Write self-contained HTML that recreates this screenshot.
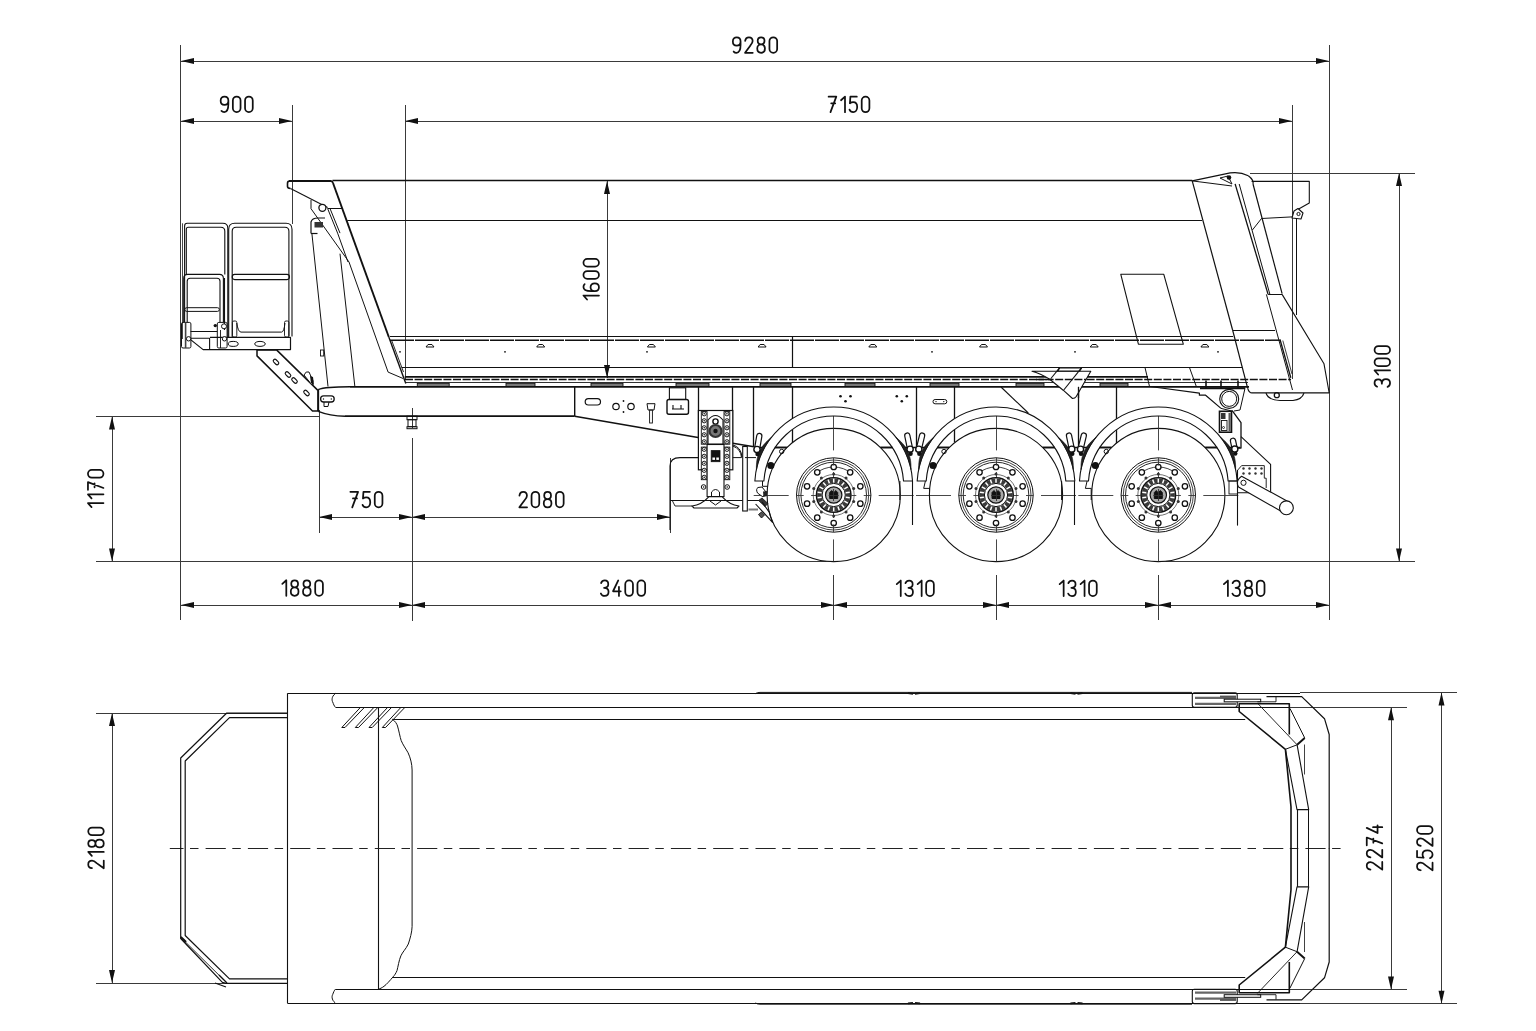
<!DOCTYPE html><html><head><meta charset="utf-8"><style>html,body{margin:0;padding:0;background:#fff;overflow:hidden}svg{display:block}</style></head><body><svg width="1536" height="1031" viewBox="0 0 1536 1031" stroke-linecap="butt"><line x1="180.5" y1="45" x2="180.5" y2="620" stroke="#3a3a3a" stroke-width="1.0" /><line x1="1329.5" y1="45" x2="1329.5" y2="620" stroke="#3a3a3a" stroke-width="1.0" /><line x1="292.5" y1="105" x2="292.5" y2="224" stroke="#3a3a3a" stroke-width="1.0" /><line x1="405.5" y1="105" x2="405.5" y2="380" stroke="#3a3a3a" stroke-width="1.0" /><line x1="1292.5" y1="105" x2="1292.5" y2="379" stroke="#3a3a3a" stroke-width="1.0" /><line x1="181" y1="61.5" x2="1329" y2="61.5" stroke="#3a3a3a" stroke-width="1.0" /><path d="M181,61 L194,58 L194,64 Z" fill="#111" stroke="none"/><path d="M1329,61 L1316,58 L1316,64 Z" fill="#111" stroke="none"/><g transform="translate(731.95,36.35)" fill="none" stroke="#111" stroke-width="1.75" stroke-linecap="round" stroke-linejoin="round"><path transform="translate(0.90,0.9)" d="M0.8,14.3 C1.5,15.1 2.6,15.5 3.6,15.5 C6.2,15.5 7.7,12.5 7.7,7.8 V4 C7.7,1.5 6.1,0 3.85,0 C1.6,0 0,1.5 0,4.2 C0,6.8 1.6,8.4 3.85,8.4 C6.1,8.4 7.7,6.8 7.7,4.5"/><path transform="translate(13.10,0.9)" d="M0.1,3.7 C0.4,1.4 2,0 3.9,0 C6,0 7.6,1.6 7.6,3.8 C7.6,5.6 6.6,6.9 5.2,8.4 L0,15.5 H7.7"/><path transform="translate(25.30,0.9)" d="M3.85,7.2 C1.8,7.2 0.45,5.8 0.45,3.6 C0.45,1.4 1.8,0 3.85,0 C5.9,0 7.25,1.4 7.25,3.6 C7.25,5.8 5.9,7.2 3.85,7.2 C1.6,7.2 0,8.9 0,11.35 C0,13.9 1.6,15.5 3.85,15.5 C6.1,15.5 7.7,13.9 7.7,11.35 C7.7,8.9 6.1,7.2 3.85,7.2 Z"/><path transform="translate(37.50,0.9)" d="M0,3.85 V11.65 A3.85,3.85 0 0 0 7.7,11.65 V3.85 A3.85,3.85 0 0 0 0,3.85 Z"/></g><line x1="181" y1="121.5" x2="292" y2="121.5" stroke="#3a3a3a" stroke-width="1.0" /><path d="M181,121 L194,118 L194,124 Z" fill="#111" stroke="none"/><path d="M292,121 L279,118 L279,124 Z" fill="#111" stroke="none"/><g transform="translate(219.75,95.65)" fill="none" stroke="#111" stroke-width="1.75" stroke-linecap="round" stroke-linejoin="round"><path transform="translate(0.90,0.9)" d="M0.8,14.3 C1.5,15.1 2.6,15.5 3.6,15.5 C6.2,15.5 7.7,12.5 7.7,7.8 V4 C7.7,1.5 6.1,0 3.85,0 C1.6,0 0,1.5 0,4.2 C0,6.8 1.6,8.4 3.85,8.4 C6.1,8.4 7.7,6.8 7.7,4.5"/><path transform="translate(13.10,0.9)" d="M0,3.85 V11.65 A3.85,3.85 0 0 0 7.7,11.65 V3.85 A3.85,3.85 0 0 0 0,3.85 Z"/><path transform="translate(25.30,0.9)" d="M0,3.85 V11.65 A3.85,3.85 0 0 0 7.7,11.65 V3.85 A3.85,3.85 0 0 0 0,3.85 Z"/></g><line x1="405" y1="121.5" x2="1292" y2="121.5" stroke="#3a3a3a" stroke-width="1.0" /><path d="M405,121 L418,118 L418,124 Z" fill="#111" stroke="none"/><path d="M1292,121 L1279,118 L1279,124 Z" fill="#111" stroke="none"/><g transform="translate(827.70,95.75)" fill="none" stroke="#111" stroke-width="1.75" stroke-linecap="round" stroke-linejoin="round"><path transform="translate(0.90,0.9)" d="M0,0 H7.7 L1.9,15.5 M2.6,6.6 H6.6"/><path transform="translate(13.10,0.9)" d="M0.2,3.6 L4.2,0 V15.5"/><path transform="translate(21.80,0.9)" d="M7.3,0 H0.9 L0.4,6.6 C1.3,5.9 2.5,5.5 3.7,5.5 C6.1,5.5 7.7,7.5 7.7,10.4 C7.7,13.4 6,15.5 3.7,15.5 C1.9,15.5 0.6,14.6 0,13"/><path transform="translate(34.00,0.9)" d="M0,3.85 V11.65 A3.85,3.85 0 0 0 7.7,11.65 V3.85 A3.85,3.85 0 0 0 0,3.85 Z"/></g><line x1="607.5" y1="181" x2="607.5" y2="378" stroke="#3a3a3a" stroke-width="1.0" /><path d="M607,181 L604,194 L610,194 Z" fill="#111" stroke="none"/><path d="M607,378 L604,365 L610,365 Z" fill="#111" stroke="none"/><g transform="translate(582.55,300.60) rotate(-90)" fill="none" stroke="#111" stroke-width="1.75" stroke-linecap="round" stroke-linejoin="round"><path transform="translate(0.90,0.9)" d="M0.2,3.6 L4.2,0 V15.5"/><path transform="translate(9.60,0.9)" d="M6.9,1.2 C6.2,0.4 5.1,0 4.1,0 C1.5,0 0,3 0,7.7 V11.5 C0,14 1.6,15.5 3.85,15.5 C6.1,15.5 7.7,14 7.7,11.3 C7.7,8.7 6.1,7.1 3.85,7.1 C1.6,7.1 0,8.7 0,11"/><path transform="translate(21.80,0.9)" d="M0,3.85 V11.65 A3.85,3.85 0 0 0 7.7,11.65 V3.85 A3.85,3.85 0 0 0 0,3.85 Z"/><path transform="translate(34.00,0.9)" d="M0,3.85 V11.65 A3.85,3.85 0 0 0 7.7,11.65 V3.85 A3.85,3.85 0 0 0 0,3.85 Z"/></g><line x1="1250" y1="173.5" x2="1415" y2="173.5" stroke="#3a3a3a" stroke-width="1.0" /><line x1="1399.5" y1="173" x2="1399.5" y2="561.5" stroke="#3a3a3a" stroke-width="1.0" /><path d="M1399,173 L1396,186 L1402,186 Z" fill="#111" stroke="none"/><path d="M1399,561.5 L1396,548.5 L1402,548.5 Z" fill="#111" stroke="none"/><g transform="translate(1373.65,387.80) rotate(-90)" fill="none" stroke="#111" stroke-width="1.75" stroke-linecap="round" stroke-linejoin="round"><path transform="translate(0.90,0.9)" d="M0.2,2.6 C0.9,0.9 2.3,0 3.9,0 C6,0 7.4,1.5 7.4,3.7 C7.4,5.9 5.8,7.3 3.2,7.3 C6.1,7.3 7.7,9.1 7.7,11.4 C7.7,13.9 6,15.5 3.8,15.5 C2,15.5 0.6,14.6 0,13"/><path transform="translate(13.10,0.9)" d="M0.2,3.6 L4.2,0 V15.5"/><path transform="translate(21.80,0.9)" d="M0,3.85 V11.65 A3.85,3.85 0 0 0 7.7,11.65 V3.85 A3.85,3.85 0 0 0 0,3.85 Z"/><path transform="translate(34.00,0.9)" d="M0,3.85 V11.65 A3.85,3.85 0 0 0 7.7,11.65 V3.85 A3.85,3.85 0 0 0 0,3.85 Z"/></g><line x1="96" y1="561.5" x2="833.7" y2="561.5" stroke="#3a3a3a" stroke-width="1.0" /><line x1="1158.3" y1="561.5" x2="1415" y2="561.5" stroke="#3a3a3a" stroke-width="1.0" /><line x1="96" y1="416.5" x2="320" y2="416.5" stroke="#3a3a3a" stroke-width="1.0" /><line x1="112.5" y1="416.5" x2="112.5" y2="561.5" stroke="#3a3a3a" stroke-width="1.0" /><path d="M112,416.5 L109,429.5 L115,429.5 Z" fill="#111" stroke="none"/><path d="M112,561.5 L109,548.5 L115,548.5 Z" fill="#111" stroke="none"/><g transform="translate(87.05,508.15) rotate(-90)" fill="none" stroke="#111" stroke-width="1.75" stroke-linecap="round" stroke-linejoin="round"><path transform="translate(0.90,0.9)" d="M0.2,3.6 L4.2,0 V15.5"/><path transform="translate(9.60,0.9)" d="M0.2,3.6 L4.2,0 V15.5"/><path transform="translate(18.30,0.9)" d="M0,0 H7.7 L1.9,15.5 M2.6,6.6 H6.6"/><path transform="translate(30.50,0.9)" d="M0,3.85 V11.65 A3.85,3.85 0 0 0 7.7,11.65 V3.85 A3.85,3.85 0 0 0 0,3.85 Z"/></g><line x1="319.5" y1="410" x2="319.5" y2="533" stroke="#3a3a3a" stroke-width="1.0" /><line x1="670.5" y1="458" x2="670.5" y2="533" stroke="#3a3a3a" stroke-width="1.0" /><line x1="412.5" y1="408" x2="412.5" y2="428" stroke="#3a3a3a" stroke-width="1.0" /><line x1="412.5" y1="438" x2="412.5" y2="621" stroke="#3a3a3a" stroke-width="1.0" /><line x1="319" y1="517.5" x2="670" y2="517.5" stroke="#3a3a3a" stroke-width="1.0" /><path d="M319,517 L332,514 L332,520 Z" fill="#111" stroke="none"/><path d="M412,517 L399,514 L399,520 Z" fill="#111" stroke="none"/><path d="M412,517 L425,514 L425,520 Z" fill="#111" stroke="none"/><path d="M670,517 L657,514 L657,520 Z" fill="#111" stroke="none"/><g transform="translate(349.45,490.95)" fill="none" stroke="#111" stroke-width="1.75" stroke-linecap="round" stroke-linejoin="round"><path transform="translate(0.90,0.9)" d="M0,0 H7.7 L1.9,15.5 M2.6,6.6 H6.6"/><path transform="translate(13.10,0.9)" d="M7.3,0 H0.9 L0.4,6.6 C1.3,5.9 2.5,5.5 3.7,5.5 C6.1,5.5 7.7,7.5 7.7,10.4 C7.7,13.4 6,15.5 3.7,15.5 C1.9,15.5 0.6,14.6 0,13"/><path transform="translate(25.30,0.9)" d="M0,3.85 V11.65 A3.85,3.85 0 0 0 7.7,11.65 V3.85 A3.85,3.85 0 0 0 0,3.85 Z"/></g><g transform="translate(518.45,490.95)" fill="none" stroke="#111" stroke-width="1.75" stroke-linecap="round" stroke-linejoin="round"><path transform="translate(0.90,0.9)" d="M0.1,3.7 C0.4,1.4 2,0 3.9,0 C6,0 7.6,1.6 7.6,3.8 C7.6,5.6 6.6,6.9 5.2,8.4 L0,15.5 H7.7"/><path transform="translate(13.10,0.9)" d="M0,3.85 V11.65 A3.85,3.85 0 0 0 7.7,11.65 V3.85 A3.85,3.85 0 0 0 0,3.85 Z"/><path transform="translate(25.30,0.9)" d="M3.85,7.2 C1.8,7.2 0.45,5.8 0.45,3.6 C0.45,1.4 1.8,0 3.85,0 C5.9,0 7.25,1.4 7.25,3.6 C7.25,5.8 5.9,7.2 3.85,7.2 C1.6,7.2 0,8.9 0,11.35 C0,13.9 1.6,15.5 3.85,15.5 C6.1,15.5 7.7,13.9 7.7,11.35 C7.7,8.9 6.1,7.2 3.85,7.2 Z"/><path transform="translate(37.50,0.9)" d="M0,3.85 V11.65 A3.85,3.85 0 0 0 7.7,11.65 V3.85 A3.85,3.85 0 0 0 0,3.85 Z"/></g><line x1="833.5" y1="575" x2="833.5" y2="620" stroke="#3a3a3a" stroke-width="1.0" /><line x1="996.5" y1="575" x2="996.5" y2="620" stroke="#3a3a3a" stroke-width="1.0" /><line x1="1158.5" y1="575" x2="1158.5" y2="620" stroke="#3a3a3a" stroke-width="1.0" /><line x1="181" y1="605.5" x2="1329" y2="605.5" stroke="#3a3a3a" stroke-width="1.0" /><path d="M181,605 L194,602 L194,608 Z" fill="#111" stroke="none"/><path d="M412,605 L399,602 L399,608 Z" fill="#111" stroke="none"/><path d="M412,605 L425,602 L425,608 Z" fill="#111" stroke="none"/><path d="M834,605 L821,602 L821,608 Z" fill="#111" stroke="none"/><path d="M834,605 L847,602 L847,608 Z" fill="#111" stroke="none"/><path d="M996,605 L983,602 L983,608 Z" fill="#111" stroke="none"/><path d="M996,605 L1009,602 L1009,608 Z" fill="#111" stroke="none"/><path d="M1158,605 L1145,602 L1145,608 Z" fill="#111" stroke="none"/><path d="M1158,605 L1171,602 L1171,608 Z" fill="#111" stroke="none"/><path d="M1329,605 L1316,602 L1316,608 Z" fill="#111" stroke="none"/><g transform="translate(281.20,579.35)" fill="none" stroke="#111" stroke-width="1.75" stroke-linecap="round" stroke-linejoin="round"><path transform="translate(0.90,0.9)" d="M0.2,3.6 L4.2,0 V15.5"/><path transform="translate(9.60,0.9)" d="M3.85,7.2 C1.8,7.2 0.45,5.8 0.45,3.6 C0.45,1.4 1.8,0 3.85,0 C5.9,0 7.25,1.4 7.25,3.6 C7.25,5.8 5.9,7.2 3.85,7.2 C1.6,7.2 0,8.9 0,11.35 C0,13.9 1.6,15.5 3.85,15.5 C6.1,15.5 7.7,13.9 7.7,11.35 C7.7,8.9 6.1,7.2 3.85,7.2 Z"/><path transform="translate(21.80,0.9)" d="M3.85,7.2 C1.8,7.2 0.45,5.8 0.45,3.6 C0.45,1.4 1.8,0 3.85,0 C5.9,0 7.25,1.4 7.25,3.6 C7.25,5.8 5.9,7.2 3.85,7.2 C1.6,7.2 0,8.9 0,11.35 C0,13.9 1.6,15.5 3.85,15.5 C6.1,15.5 7.7,13.9 7.7,11.35 C7.7,8.9 6.1,7.2 3.85,7.2 Z"/><path transform="translate(34.00,0.9)" d="M0,3.85 V11.65 A3.85,3.85 0 0 0 7.7,11.65 V3.85 A3.85,3.85 0 0 0 0,3.85 Z"/></g><g transform="translate(599.95,579.55)" fill="none" stroke="#111" stroke-width="1.75" stroke-linecap="round" stroke-linejoin="round"><path transform="translate(0.90,0.9)" d="M0.2,2.6 C0.9,0.9 2.3,0 3.9,0 C6,0 7.4,1.5 7.4,3.7 C7.4,5.9 5.8,7.3 3.2,7.3 C6.1,7.3 7.7,9.1 7.7,11.4 C7.7,13.9 6,15.5 3.8,15.5 C2,15.5 0.6,14.6 0,13"/><path transform="translate(13.10,0.9)" d="M5.2,0 L0,10.8 H7.7 M5.9,6.3 V15.5"/><path transform="translate(25.30,0.9)" d="M0,3.85 V11.65 A3.85,3.85 0 0 0 7.7,11.65 V3.85 A3.85,3.85 0 0 0 0,3.85 Z"/><path transform="translate(37.50,0.9)" d="M0,3.85 V11.65 A3.85,3.85 0 0 0 7.7,11.65 V3.85 A3.85,3.85 0 0 0 0,3.85 Z"/></g><g transform="translate(895.65,579.65)" fill="none" stroke="#111" stroke-width="1.75" stroke-linecap="round" stroke-linejoin="round"><path transform="translate(0.90,0.9)" d="M0.2,3.6 L4.2,0 V15.5"/><path transform="translate(9.60,0.9)" d="M0.2,2.6 C0.9,0.9 2.3,0 3.9,0 C6,0 7.4,1.5 7.4,3.7 C7.4,5.9 5.8,7.3 3.2,7.3 C6.1,7.3 7.7,9.1 7.7,11.4 C7.7,13.9 6,15.5 3.8,15.5 C2,15.5 0.6,14.6 0,13"/><path transform="translate(21.80,0.9)" d="M0.2,3.6 L4.2,0 V15.5"/><path transform="translate(30.50,0.9)" d="M0,3.85 V11.65 A3.85,3.85 0 0 0 7.7,11.65 V3.85 A3.85,3.85 0 0 0 0,3.85 Z"/></g><g transform="translate(1058.55,579.65)" fill="none" stroke="#111" stroke-width="1.75" stroke-linecap="round" stroke-linejoin="round"><path transform="translate(0.90,0.9)" d="M0.2,3.6 L4.2,0 V15.5"/><path transform="translate(9.60,0.9)" d="M0.2,2.6 C0.9,0.9 2.3,0 3.9,0 C6,0 7.4,1.5 7.4,3.7 C7.4,5.9 5.8,7.3 3.2,7.3 C6.1,7.3 7.7,9.1 7.7,11.4 C7.7,13.9 6,15.5 3.8,15.5 C2,15.5 0.6,14.6 0,13"/><path transform="translate(21.80,0.9)" d="M0.2,3.6 L4.2,0 V15.5"/><path transform="translate(30.50,0.9)" d="M0,3.85 V11.65 A3.85,3.85 0 0 0 7.7,11.65 V3.85 A3.85,3.85 0 0 0 0,3.85 Z"/></g><g transform="translate(1222.80,579.65)" fill="none" stroke="#111" stroke-width="1.75" stroke-linecap="round" stroke-linejoin="round"><path transform="translate(0.90,0.9)" d="M0.2,3.6 L4.2,0 V15.5"/><path transform="translate(9.60,0.9)" d="M0.2,2.6 C0.9,0.9 2.3,0 3.9,0 C6,0 7.4,1.5 7.4,3.7 C7.4,5.9 5.8,7.3 3.2,7.3 C6.1,7.3 7.7,9.1 7.7,11.4 C7.7,13.9 6,15.5 3.8,15.5 C2,15.5 0.6,14.6 0,13"/><path transform="translate(21.80,0.9)" d="M3.85,7.2 C1.8,7.2 0.45,5.8 0.45,3.6 C0.45,1.4 1.8,0 3.85,0 C5.9,0 7.25,1.4 7.25,3.6 C7.25,5.8 5.9,7.2 3.85,7.2 C1.6,7.2 0,8.9 0,11.35 C0,13.9 1.6,15.5 3.85,15.5 C6.1,15.5 7.7,13.9 7.7,11.35 C7.7,8.9 6.1,7.2 3.85,7.2 Z"/><path transform="translate(34.00,0.9)" d="M0,3.85 V11.65 A3.85,3.85 0 0 0 7.7,11.65 V3.85 A3.85,3.85 0 0 0 0,3.85 Z"/></g><line x1="96" y1="713.5" x2="287" y2="713.5" stroke="#3a3a3a" stroke-width="1.0" /><line x1="96" y1="983.5" x2="227" y2="983.5" stroke="#3a3a3a" stroke-width="1.0" /><line x1="112.5" y1="713" x2="112.5" y2="983" stroke="#3a3a3a" stroke-width="1.0" /><path d="M112,713 L109,726 L115,726 Z" fill="#111" stroke="none"/><path d="M112,983 L109,970 L115,970 Z" fill="#111" stroke="none"/><g transform="translate(87.35,869.20) rotate(-90)" fill="none" stroke="#111" stroke-width="1.75" stroke-linecap="round" stroke-linejoin="round"><path transform="translate(0.90,0.9)" d="M0.1,3.7 C0.4,1.4 2,0 3.9,0 C6,0 7.6,1.6 7.6,3.8 C7.6,5.6 6.6,6.9 5.2,8.4 L0,15.5 H7.7"/><path transform="translate(13.10,0.9)" d="M0.2,3.6 L4.2,0 V15.5"/><path transform="translate(21.80,0.9)" d="M3.85,7.2 C1.8,7.2 0.45,5.8 0.45,3.6 C0.45,1.4 1.8,0 3.85,0 C5.9,0 7.25,1.4 7.25,3.6 C7.25,5.8 5.9,7.2 3.85,7.2 C1.6,7.2 0,8.9 0,11.35 C0,13.9 1.6,15.5 3.85,15.5 C6.1,15.5 7.7,13.9 7.7,11.35 C7.7,8.9 6.1,7.2 3.85,7.2 Z"/><path transform="translate(34.00,0.9)" d="M0,3.85 V11.65 A3.85,3.85 0 0 0 7.7,11.65 V3.85 A3.85,3.85 0 0 0 0,3.85 Z"/></g><line x1="1290" y1="707.5" x2="1407" y2="707.5" stroke="#3a3a3a" stroke-width="1.0" /><line x1="1290" y1="989.5" x2="1407" y2="989.5" stroke="#3a3a3a" stroke-width="1.0" /><line x1="1391.5" y1="707.3" x2="1391.5" y2="989.4" stroke="#3a3a3a" stroke-width="1.0" /><path d="M1391,707.3 L1388,720.3 L1394,720.3 Z" fill="#111" stroke="none"/><path d="M1391,989.4 L1388,976.4 L1394,976.4 Z" fill="#111" stroke="none"/><g transform="translate(1365.85,870.55) rotate(-90)" fill="none" stroke="#111" stroke-width="1.75" stroke-linecap="round" stroke-linejoin="round"><path transform="translate(0.90,0.9)" d="M0.1,3.7 C0.4,1.4 2,0 3.9,0 C6,0 7.6,1.6 7.6,3.8 C7.6,5.6 6.6,6.9 5.2,8.4 L0,15.5 H7.7"/><path transform="translate(13.10,0.9)" d="M0.1,3.7 C0.4,1.4 2,0 3.9,0 C6,0 7.6,1.6 7.6,3.8 C7.6,5.6 6.6,6.9 5.2,8.4 L0,15.5 H7.7"/><path transform="translate(25.30,0.9)" d="M0,0 H7.7 L1.9,15.5 M2.6,6.6 H6.6"/><path transform="translate(37.50,0.9)" d="M5.2,0 L0,10.8 H7.7 M5.9,6.3 V15.5"/></g><line x1="1300" y1="692.5" x2="1457" y2="692.5" stroke="#3a3a3a" stroke-width="1.0" /><line x1="1300" y1="1003.5" x2="1457" y2="1003.5" stroke="#3a3a3a" stroke-width="1.0" /><line x1="1441.5" y1="692.5" x2="1441.5" y2="1003.8" stroke="#3a3a3a" stroke-width="1.0" /><path d="M1441.5,692.5 L1438.5,705.5 L1444.5,705.5 Z" fill="#111" stroke="none"/><path d="M1441.5,1003.8 L1438.5,990.8 L1444.5,990.8 Z" fill="#111" stroke="none"/><g transform="translate(1416.15,871.25) rotate(-90)" fill="none" stroke="#111" stroke-width="1.75" stroke-linecap="round" stroke-linejoin="round"><path transform="translate(0.90,0.9)" d="M0.1,3.7 C0.4,1.4 2,0 3.9,0 C6,0 7.6,1.6 7.6,3.8 C7.6,5.6 6.6,6.9 5.2,8.4 L0,15.5 H7.7"/><path transform="translate(13.10,0.9)" d="M7.3,0 H0.9 L0.4,6.6 C1.3,5.9 2.5,5.5 3.7,5.5 C6.1,5.5 7.7,7.5 7.7,10.4 C7.7,13.4 6,15.5 3.7,15.5 C1.9,15.5 0.6,14.6 0,13"/><path transform="translate(25.30,0.9)" d="M0.1,3.7 C0.4,1.4 2,0 3.9,0 C6,0 7.6,1.6 7.6,3.8 C7.6,5.6 6.6,6.9 5.2,8.4 L0,15.5 H7.7"/><path transform="translate(37.50,0.9)" d="M0,3.85 V11.65 A3.85,3.85 0 0 0 7.7,11.65 V3.85 A3.85,3.85 0 0 0 0,3.85 Z"/></g><line x1="182.5" y1="223.3" x2="182.5" y2="339" stroke="#333" stroke-width="0.9" /><path d="M228.7,337.4 V229.3 Q228.7,223.3 234.7,223.3 H286 Q292,223.3 292,229.3 V336.6" stroke="#111" stroke-width="1.1" fill="none" stroke-linejoin="round" /><path d="M232.2,337.4 V231.2 Q232.2,227.2 236.2,227.2 H284.9 Q288.9,227.2 288.9,231.2 V336.6" stroke="#111" stroke-width="1.1" fill="none" stroke-linejoin="round" /><path d="M184.6,322 V226 Q184.6,223.3 187.3,223.3 H222.8 Q227.8,223.3 227.8,228.3 V337.4" stroke="#111" stroke-width="1.1" fill="none" stroke-linejoin="round" /><path d="M186.3,274.4 V229.2 Q186.3,227.2 188.3,227.2 H220.8 Q224.8,227.2 224.8,231.2 V274.4" stroke="#111" stroke-width="1.1" fill="none" stroke-linejoin="round" /><path d="M183.7,322 V278.4 Q183.7,274.4 187.7,274.4 H219.4 Q223.4,274.4 223.4,278.4 V322" stroke="#111" stroke-width="1.1" fill="none" stroke-linejoin="round" /><path d="M187.2,322 V281.3 Q187.2,278.3 190.2,278.3 H217 Q220,278.3 220,281.3 V322" stroke="#111" stroke-width="1.1" fill="none" stroke-linejoin="round" /><line x1="224.5" y1="278" x2="224.5" y2="330" stroke="#111" stroke-width="1.1" /><rect x="184.8" y="307.7" width="34.5" height="3.7" rx="1.8" stroke="#111" stroke-width="1.0" fill="none" /><rect x="232.2" y="274.4" width="57.3" height="5.2" rx="2.5" stroke="#111" stroke-width="1.1" fill="none" /><path d="M210,337.4 L290.5,337.4 L290.5,349.6 L203.1,349.6 L190.9,339.9" stroke="#111" stroke-width="1.2" fill="none" stroke-linejoin="round" /><path d="M189.6,338.2 L209.6,338.2 L209.6,349.6" stroke="#111" stroke-width="1.1" fill="none" stroke-linejoin="round" /><line x1="190.5" y1="331.5" x2="217.3" y2="331.5" stroke="#111" stroke-width="1.0" /><path d="M236.8,323 Q238,332 241,332.1 H281.6 Q284,332 285,323" stroke="#111" stroke-width="1.0" fill="none" stroke-linejoin="round" /><rect x="232.4" y="321" width="4.4" height="16" rx="1.5" stroke="#111" stroke-width="0.9" fill="none" /><rect x="284.5" y="321" width="4.4" height="16" rx="1.5" stroke="#111" stroke-width="0.9" fill="none" /><ellipse cx="233.2" cy="343.9" rx="5" ry="2.5" stroke="#111" stroke-width="1" fill="none"/><ellipse cx="260" cy="343.9" rx="5.3" ry="2.5" stroke="#111" stroke-width="1" fill="none"/><rect x="181.5" y="322.4" width="9.4" height="25.6" rx="1.5" stroke="#111" stroke-width="1.0" fill="none" /><line x1="185.6" y1="322.4" x2="185.6" y2="348" stroke="#444" stroke-width="1.6" /><circle cx="188.6" cy="338.8" r="2.2" stroke="#111" stroke-width="1.0" fill="#fff" /><rect x="217.3" y="322.4" width="9.8" height="25.6" rx="1.5" stroke="#111" stroke-width="1.0" fill="none" /><circle cx="224" cy="326.3" r="2.5" stroke="#111" stroke-width="1.0" fill="#fff" /><circle cx="215.3" cy="325.6" r="1.7" stroke="#111" stroke-width="0" fill="#111" /><circle cx="224.5" cy="338.8" r="2.2" stroke="#111" stroke-width="1.0" fill="#fff" /><line x1="220.5" y1="330" x2="220.5" y2="348" stroke="#111" stroke-width="0.9" /><path d="M257,350.1 L276.8,350.1 L317.9,390.4 L317.9,411 L312.5,411 L257,355.9 Z" stroke="#111" stroke-width="1.5" fill="none" stroke-linejoin="round" /><rect x="272.8" y="360.3" width="6.4" height="3.4" rx="1.7" transform="rotate(45 276 362)" stroke="#111" stroke-width="1.1" fill="none"/><rect x="284.8" y="372.8" width="6.4" height="3.4" rx="1.7" transform="rotate(45 288 374.5)" stroke="#111" stroke-width="1.1" fill="none"/><rect x="291.3" y="378.8" width="6.4" height="3.4" rx="1.7" transform="rotate(45 294.5 380.5)" stroke="#111" stroke-width="1.1" fill="none"/><rect x="303.3" y="391.3" width="6.4" height="3.4" rx="1.7" transform="rotate(45 306.5 393)" stroke="#111" stroke-width="1.1" fill="none"/><path d="M304,375 Q306,370.5 309,372 L313,381 L312,385 Z" stroke="#111" stroke-width="1.0" fill="#fff" stroke-linejoin="round" /><path d="M310,376 L313,377 L314,385 L311,383 Z" stroke="#111" stroke-width="0" fill="#111" stroke-linejoin="round" /><path d="M289,181 H330.7 Q332.5,181 333,183" stroke="#111" stroke-width="1.8" fill="none" stroke-linejoin="round" /><path d="M289.5,181 Q287.5,181 287.5,183.5 V186.5 Q287.5,188.2 290.5,188.5" stroke="#111" stroke-width="1.6" fill="none" stroke-linejoin="round" /><line x1="290.5" y1="188.5" x2="327.6" y2="207.4" stroke="#111" stroke-width="1.1" /><line x1="327.6" y1="208.5" x2="342.4" y2="208.5" stroke="#111" stroke-width="1.0" /><line x1="333" y1="183" x2="388.8" y2="337" stroke="#111" stroke-width="1.9" /><circle cx="322.4" cy="207.8" r="3.5" stroke="#111" stroke-width="1.3" fill="#fff" /><path d="M311,200 L311,208.7 L349,262 L388.1,372.1 L403.1,378.5" stroke="#111" stroke-width="1.0" fill="none" stroke-linejoin="round" /><path d="M327.6,208.5 L337.6,233.1 L348,262" stroke="#111" stroke-width="1.0" fill="none" stroke-linejoin="round" /><path d="M330,208.5 L340,233.1" stroke="#111" stroke-width="1.0" fill="none" stroke-linejoin="round" /><path d="M311,233.5 V222 Q312,218 318,218 L325,218" stroke="#111" stroke-width="1.2" fill="none" stroke-linejoin="round" /><rect x="314.5" y="222" width="8.5" height="5.5" rx="0" stroke="#111" stroke-width="0" fill="#333" /><line x1="311" y1="233.5" x2="317.5" y2="233.5" stroke="#111" stroke-width="1.2" /><line x1="311.9" y1="233.5" x2="328" y2="386.5" stroke="#111" stroke-width="1.0" /><line x1="340" y1="253.7" x2="354.8" y2="386" stroke="#111" stroke-width="1.0" /><rect x="320.5" y="350" width="3.2" height="6" rx="0" stroke="#111" stroke-width="0.9" fill="none" /><line x1="332.5" y1="180.5" x2="1192.2" y2="180.5" stroke="#111" stroke-width="1.3" /><line x1="347.2" y1="220.5" x2="1202" y2="220.5" stroke="#111" stroke-width="1.1" /><line x1="390" y1="336.5" x2="1233" y2="336.5" stroke="#111" stroke-width="1.2" /><path d="M390,340.2 H1281" stroke="#111" stroke-width="1.5" fill="none" stroke-linejoin="round" stroke-dasharray="24,1"/><line x1="401.7" y1="367.5" x2="1242" y2="367.5" stroke="#111" stroke-width="1.2" /><line x1="792.5" y1="336.4" x2="792.5" y2="367.5" stroke="#111" stroke-width="1.2" /><line x1="404.8" y1="376.8" x2="1148" y2="376.8" stroke="#111" stroke-width="1.7" /><path d="M405,379.4 H1291" stroke="#111" stroke-width="1.5" fill="none" stroke-linejoin="round" stroke-dasharray="8,1.6"/><line x1="406" y1="382.5" x2="1248" y2="382.5" stroke="#333" stroke-width="1.0" /><rect x="417.3" y="383.3" width="31.9" height="3.2" rx="0" stroke="#111" stroke-width="0.9" fill="#777" /><rect x="506" y="383.3" width="29" height="3.2" rx="0" stroke="#111" stroke-width="0.9" fill="#777" /><rect x="591" y="383.3" width="32" height="3.2" rx="0" stroke="#111" stroke-width="0.9" fill="#777" /><rect x="676" y="383.3" width="33" height="3.2" rx="0" stroke="#111" stroke-width="0.9" fill="#777" /><rect x="760" y="383.3" width="31" height="3.2" rx="0" stroke="#111" stroke-width="0.9" fill="#777" /><rect x="845" y="383.3" width="30" height="3.2" rx="0" stroke="#111" stroke-width="0.9" fill="#777" /><rect x="930" y="383.3" width="29" height="3.2" rx="0" stroke="#111" stroke-width="0.9" fill="#777" /><rect x="1016" y="383.3" width="28" height="3.2" rx="0" stroke="#111" stroke-width="0.9" fill="#777" /><rect x="1100" y="383.3" width="28" height="3.2" rx="0" stroke="#111" stroke-width="0.9" fill="#777" /><line x1="388.8" y1="337" x2="405.8" y2="383.6" stroke="#111" stroke-width="1.4" /><line x1="391.5" y1="340" x2="403.5" y2="372" stroke="#111" stroke-width="0.9" /><path d="M426.0,347 H434.0 L432.0,344.5 H428.0 Z" stroke="#111" stroke-width="1.0" fill="none" stroke-linejoin="round" /><path d="M536.7,347 H544.7 L542.7,344.5 H538.7 Z" stroke="#111" stroke-width="1.0" fill="none" stroke-linejoin="round" /><path d="M647.4,347 H655.4 L653.4,344.5 H649.4 Z" stroke="#111" stroke-width="1.0" fill="none" stroke-linejoin="round" /><path d="M758.1,347 H766.1 L764.1,344.5 H760.1 Z" stroke="#111" stroke-width="1.0" fill="none" stroke-linejoin="round" /><path d="M868.8,347 H876.8 L874.8,344.5 H870.8 Z" stroke="#111" stroke-width="1.0" fill="none" stroke-linejoin="round" /><path d="M979.5,347 H987.5 L985.5,344.5 H981.5 Z" stroke="#111" stroke-width="1.0" fill="none" stroke-linejoin="round" /><path d="M1090.2,347 H1098.2 L1096.2,344.5 H1092.2 Z" stroke="#111" stroke-width="1.0" fill="none" stroke-linejoin="round" /><path d="M1200.9,347 H1208.9 L1206.9,344.5 H1202.9 Z" stroke="#111" stroke-width="1.0" fill="none" stroke-linejoin="round" /><circle cx="400" cy="351.8" r="0.9" stroke="#111" stroke-width="0" fill="#111" /><circle cx="505" cy="351.8" r="0.9" stroke="#111" stroke-width="0" fill="#111" /><circle cx="647" cy="351.8" r="0.9" stroke="#111" stroke-width="0" fill="#111" /><circle cx="932" cy="351.8" r="0.9" stroke="#111" stroke-width="0" fill="#111" /><circle cx="1075" cy="351.8" r="0.9" stroke="#111" stroke-width="0" fill="#111" /><circle cx="1218" cy="351.8" r="0.9" stroke="#111" stroke-width="0" fill="#111" /><line x1="350" y1="386.8" x2="1249" y2="386.8" stroke="#111" stroke-width="1.8" /><path d="M318.2,389.6 C325,387 338,386.8 350,386.8" stroke="#111" stroke-width="1.4" fill="none" stroke-linejoin="round" /><path d="M318.2,411.3 C325,414 335,416 345,416.2" stroke="#111" stroke-width="1.4" fill="none" stroke-linejoin="round" /><line x1="318.5" y1="389.6" x2="318.5" y2="411.3" stroke="#111" stroke-width="1.3" /><rect x="320.6" y="395.9" width="13.6" height="6.1" rx="3" stroke="#111" stroke-width="1.3" fill="none" /><circle cx="323.5" cy="399" r="0.7" stroke="#111" stroke-width="0" fill="#111" /><circle cx="331.3" cy="399" r="0.7" stroke="#111" stroke-width="0" fill="#111" /><path d="M324,402 V406.5 H328 L329,402" stroke="#111" stroke-width="1.0" fill="none" stroke-linejoin="round" /><line x1="345" y1="416.2" x2="574.7" y2="416.2" stroke="#111" stroke-width="1.8" /><line x1="574.7" y1="386.8" x2="574.7" y2="416.2" stroke="#111" stroke-width="1.4" /><path d="M574.7,416.2 L698,437.5 L754,446.8" stroke="#111" stroke-width="1.6" fill="none" stroke-linejoin="round" /><rect x="407" y="416.2" width="10" height="3.5" rx="0" stroke="#111" stroke-width="1.0" fill="none" /><rect x="408" y="419.7" width="8" height="7" rx="0" stroke="#111" stroke-width="1.0" fill="none" /><rect x="407" y="426.7" width="10" height="2" rx="0" stroke="#111" stroke-width="1.0" fill="none" /><line x1="698.5" y1="386.8" x2="698.5" y2="437" stroke="#111" stroke-width="1.3" /><line x1="732.5" y1="386.8" x2="732.5" y2="443" stroke="#111" stroke-width="1.3" /><line x1="753.5" y1="386.8" x2="753.5" y2="447" stroke="#111" stroke-width="1.3" /><line x1="792.5" y1="386.8" x2="792.5" y2="447" stroke="#111" stroke-width="1.3" /><line x1="916.5" y1="386.8" x2="916.5" y2="448" stroke="#111" stroke-width="1.3" /><line x1="954.5" y1="386.8" x2="954.5" y2="442" stroke="#111" stroke-width="1.3" /><line x1="1078.5" y1="386.8" x2="1078.5" y2="448" stroke="#111" stroke-width="1.3" /><line x1="1116.5" y1="386.8" x2="1116.5" y2="448" stroke="#111" stroke-width="1.3" /><line x1="754" y1="447.5" x2="1240" y2="447.5" stroke="#111" stroke-width="1.6" /><rect x="585.2" y="398.6" width="15.3" height="6.4" rx="3.2" stroke="#111" stroke-width="1.2" fill="none" /><circle cx="616" cy="406.5" r="3.2" stroke="#111" stroke-width="1.2" fill="none" /><circle cx="631" cy="406.5" r="3.2" stroke="#111" stroke-width="1.2" fill="none" /><circle cx="623.5" cy="401" r="0.9" stroke="#111" stroke-width="0" fill="#111" /><circle cx="623.5" cy="412" r="0.9" stroke="#111" stroke-width="0" fill="#111" /><path d="M647,403.7 H655 L654,410 H648 Z" stroke="#111" stroke-width="1.0" fill="none" stroke-linejoin="round" /><rect x="649.6" y="410" width="2.8" height="13" rx="0" stroke="#111" stroke-width="0.9" fill="none" /><rect x="669.4" y="387.8" width="16.3" height="11.7" rx="0" stroke="#111" stroke-width="1.1" fill="none" /><rect x="667" y="399.5" width="21.5" height="14.7" rx="2" stroke="#111" stroke-width="1.4" fill="none" /><path d="M672,409 H684 M673,405 V409 M681,405 V409" stroke="#111" stroke-width="1.1" fill="none" stroke-linejoin="round" /><rect x="698.4" y="410.5" width="34.4" height="59.3" rx="0" stroke="#111" stroke-width="1.2" fill="#fff" /><rect x="701.3" y="411.6" width="5.8" height="32.6" rx="0" stroke="#111" stroke-width="0.9" fill="none" /><rect x="701.3" y="447.1" width="5.8" height="32.6" rx="0" stroke="#111" stroke-width="0.9" fill="none" /><circle cx="704.2" cy="413.8" r="2.1" stroke="#111" stroke-width="1.0" fill="#fff" /><circle cx="704.2" cy="413.8" r="0.8" stroke="#111" stroke-width="0" fill="#111" /><circle cx="704.2" cy="420.8" r="2.1" stroke="#111" stroke-width="1.0" fill="#fff" /><circle cx="704.2" cy="420.8" r="0.8" stroke="#111" stroke-width="0" fill="#111" /><circle cx="704.2" cy="427.8" r="2.1" stroke="#111" stroke-width="1.0" fill="#fff" /><circle cx="704.2" cy="427.8" r="0.8" stroke="#111" stroke-width="0" fill="#111" /><circle cx="704.2" cy="434.8" r="2.1" stroke="#111" stroke-width="1.0" fill="#fff" /><circle cx="704.2" cy="434.8" r="0.8" stroke="#111" stroke-width="0" fill="#111" /><circle cx="704.2" cy="441.8" r="2.1" stroke="#111" stroke-width="1.0" fill="#fff" /><circle cx="704.2" cy="441.8" r="0.8" stroke="#111" stroke-width="0" fill="#111" /><circle cx="704.2" cy="449.3" r="2.1" stroke="#111" stroke-width="1.0" fill="#fff" /><circle cx="704.2" cy="449.3" r="0.8" stroke="#111" stroke-width="0" fill="#111" /><circle cx="704.2" cy="456.3" r="2.1" stroke="#111" stroke-width="1.0" fill="#fff" /><circle cx="704.2" cy="456.3" r="0.8" stroke="#111" stroke-width="0" fill="#111" /><circle cx="704.2" cy="463.3" r="2.1" stroke="#111" stroke-width="1.0" fill="#fff" /><circle cx="704.2" cy="463.3" r="0.8" stroke="#111" stroke-width="0" fill="#111" /><circle cx="704.2" cy="470.3" r="2.1" stroke="#111" stroke-width="1.0" fill="#fff" /><circle cx="704.2" cy="470.3" r="0.8" stroke="#111" stroke-width="0" fill="#111" /><circle cx="704.2" cy="477.3" r="2.1" stroke="#111" stroke-width="1.0" fill="#fff" /><circle cx="704.2" cy="477.3" r="0.8" stroke="#111" stroke-width="0" fill="#111" /><rect x="724" y="411.6" width="5.8" height="32.6" rx="0" stroke="#111" stroke-width="0.9" fill="none" /><rect x="724" y="447.1" width="5.8" height="32.6" rx="0" stroke="#111" stroke-width="0.9" fill="none" /><circle cx="726.9" cy="413.8" r="2.1" stroke="#111" stroke-width="1.0" fill="#fff" /><circle cx="726.9" cy="413.8" r="0.8" stroke="#111" stroke-width="0" fill="#111" /><circle cx="726.9" cy="420.8" r="2.1" stroke="#111" stroke-width="1.0" fill="#fff" /><circle cx="726.9" cy="420.8" r="0.8" stroke="#111" stroke-width="0" fill="#111" /><circle cx="726.9" cy="427.8" r="2.1" stroke="#111" stroke-width="1.0" fill="#fff" /><circle cx="726.9" cy="427.8" r="0.8" stroke="#111" stroke-width="0" fill="#111" /><circle cx="726.9" cy="434.8" r="2.1" stroke="#111" stroke-width="1.0" fill="#fff" /><circle cx="726.9" cy="434.8" r="0.8" stroke="#111" stroke-width="0" fill="#111" /><circle cx="726.9" cy="441.8" r="2.1" stroke="#111" stroke-width="1.0" fill="#fff" /><circle cx="726.9" cy="441.8" r="0.8" stroke="#111" stroke-width="0" fill="#111" /><circle cx="726.9" cy="449.3" r="2.1" stroke="#111" stroke-width="1.0" fill="#fff" /><circle cx="726.9" cy="449.3" r="0.8" stroke="#111" stroke-width="0" fill="#111" /><circle cx="726.9" cy="456.3" r="2.1" stroke="#111" stroke-width="1.0" fill="#fff" /><circle cx="726.9" cy="456.3" r="0.8" stroke="#111" stroke-width="0" fill="#111" /><circle cx="726.9" cy="463.3" r="2.1" stroke="#111" stroke-width="1.0" fill="#fff" /><circle cx="726.9" cy="463.3" r="0.8" stroke="#111" stroke-width="0" fill="#111" /><circle cx="726.9" cy="470.3" r="2.1" stroke="#111" stroke-width="1.0" fill="#fff" /><circle cx="726.9" cy="470.3" r="0.8" stroke="#111" stroke-width="0" fill="#111" /><circle cx="726.9" cy="477.3" r="2.1" stroke="#111" stroke-width="1.0" fill="#fff" /><circle cx="726.9" cy="477.3" r="0.8" stroke="#111" stroke-width="0" fill="#111" /><rect x="707.1" y="444.2" width="16.9" height="52.4" rx="0" stroke="#111" stroke-width="1.1" fill="#fff" /><path d="M708,444 V420 Q715.5,411 723,420 V444 Z" stroke="#111" stroke-width="1.1" fill="#fff" stroke-linejoin="round" /><circle cx="715.5" cy="421.5" r="2.6" stroke="#111" stroke-width="1.4" fill="none" /><circle cx="715.5" cy="431" r="6" stroke="#333" stroke-width="2.2" fill="#777" /><circle cx="715.5" cy="431" r="2.2" stroke="#111" stroke-width="0" fill="#111" /><line x1="707.1" y1="444.5" x2="724" y2="444.5" stroke="#111" stroke-width="1.1" /><rect x="711.2" y="450.6" width="8.8" height="11.1" rx="0" stroke="#111" stroke-width="0.8" fill="#111" /><rect x="712.4" y="457.5" width="2.6" height="2.4" rx="0" stroke="#fff" stroke-width="0" fill="#fff" /><rect x="716.3" y="457.5" width="2.6" height="2.4" rx="0" stroke="#fff" stroke-width="0" fill="#fff" /><circle cx="703.6" cy="487" r="2.3" stroke="#111" stroke-width="1.0" fill="none" /><circle cx="727.2" cy="487" r="2.3" stroke="#111" stroke-width="1.0" fill="none" /><circle cx="703.6" cy="487" r="0.8" stroke="#111" stroke-width="0" fill="#111" /><circle cx="727.2" cy="487" r="0.8" stroke="#111" stroke-width="0" fill="#111" /><path d="M711.5,496.6 V492 Q715.5,487 719.5,492 V496.6" stroke="#111" stroke-width="1.0" fill="none" stroke-linejoin="round" /><path d="M692,506 C700,505 705,501 709,496.6 H722 C726,501 731,505 739,506 L737,508 H694 Z" stroke="#111" stroke-width="1.1" fill="#fff" stroke-linejoin="round" /><path d="M710,501 L715.5,505 L721,501" stroke="#111" stroke-width="1.0" fill="none" stroke-linejoin="round" /><path d="M670,530 V466 Q670,457.6 680,457.6 H698.4" stroke="#111" stroke-width="1.1" fill="none" stroke-linejoin="round" /><line x1="670" y1="500.5" x2="760" y2="500.5" stroke="#111" stroke-width="1.1" /><path d="M672,500 L675,506 H692" stroke="#111" stroke-width="0.9" fill="none" stroke-linejoin="round" /><rect x="742.7" y="446.5" width="4.6" height="64.5" rx="0" stroke="#111" stroke-width="1.1" fill="#fff" /><path d="M732.8,446 Q741,449 741.5,457.6 H732.8" stroke="#111" stroke-width="1.0" fill="none" stroke-linejoin="round" /><circle cx="833.7" cy="495" r="66.6" stroke="#111" stroke-width="1.1" fill="#fff" /><circle cx="833.7" cy="495" r="37.2" stroke="#111" stroke-width="1.0" fill="none" /><circle cx="833.7" cy="495" r="35" stroke="#111" stroke-width="0.8" fill="none" /><circle cx="833.7" cy="495" r="32.8" stroke="#111" stroke-width="0.9" fill="none" /><path d="M851.70,473.55 A28,28 0 0 0 815.70,473.55" stroke="#111" stroke-width="0.8" fill="none" stroke-linejoin="round" /><circle cx="833.7" cy="467" r="2.7" stroke="#111" stroke-width="1.3" fill="#fff" /><circle cx="817.24" cy="472.35" r="2.7" stroke="#111" stroke-width="1.3" fill="#fff" /><circle cx="807.07" cy="486.35" r="2.7" stroke="#111" stroke-width="1.3" fill="#fff" /><circle cx="807.07" cy="503.65" r="2.7" stroke="#111" stroke-width="1.3" fill="#fff" /><circle cx="817.24" cy="517.65" r="2.7" stroke="#111" stroke-width="1.3" fill="#fff" /><circle cx="833.7" cy="523" r="2.7" stroke="#111" stroke-width="1.3" fill="#fff" /><circle cx="850.16" cy="517.65" r="2.7" stroke="#111" stroke-width="1.3" fill="#fff" /><circle cx="860.33" cy="503.65" r="2.7" stroke="#111" stroke-width="1.3" fill="#fff" /><circle cx="860.33" cy="486.35" r="2.7" stroke="#111" stroke-width="1.3" fill="#fff" /><circle cx="850.16" cy="472.35" r="2.7" stroke="#111" stroke-width="1.3" fill="#fff" /><circle cx="833.7" cy="474" r="1.5" stroke="#111" stroke-width="0" fill="#333" /><circle cx="821.36" cy="478.01" r="1.5" stroke="#111" stroke-width="0" fill="#333" /><circle cx="813.73" cy="488.51" r="1.5" stroke="#111" stroke-width="0" fill="#333" /><circle cx="813.73" cy="501.49" r="1.5" stroke="#111" stroke-width="0" fill="#333" /><circle cx="821.36" cy="511.99" r="1.5" stroke="#111" stroke-width="0" fill="#333" /><circle cx="833.7" cy="516" r="1.5" stroke="#111" stroke-width="0" fill="#333" /><circle cx="846.04" cy="511.99" r="1.5" stroke="#111" stroke-width="0" fill="#333" /><circle cx="853.67" cy="501.49" r="1.5" stroke="#111" stroke-width="0" fill="#333" /><circle cx="853.67" cy="488.51" r="1.5" stroke="#111" stroke-width="0" fill="#333" /><circle cx="846.04" cy="478.01" r="1.5" stroke="#111" stroke-width="0" fill="#333" /><circle cx="833.7" cy="495" r="17.2" stroke="#111" stroke-width="1.6" fill="none" /><circle cx="833.7" cy="495" r="20.5" stroke="#333" stroke-width="0.7" fill="none" /><circle cx="833.7" cy="495" r="14.3" stroke="#3a3a3a" stroke-width="4.6" fill="none" /><line x1="845.81" y1="497.14" x2="849.75" y2="497.83" stroke="#fff" stroke-width="1.5" /><line x1="844.35" y1="501.15" x2="847.82" y2="503.15" stroke="#fff" stroke-width="1.5" /><line x1="841.61" y1="504.42" x2="844.18" y2="507.49" stroke="#fff" stroke-width="1.5" /><line x1="837.91" y1="506.56" x2="839.27" y2="510.32" stroke="#fff" stroke-width="1.5" /><line x1="833.7" y1="507.3" x2="833.7" y2="511.3" stroke="#fff" stroke-width="1.5" /><line x1="829.49" y1="506.56" x2="828.13" y2="510.32" stroke="#fff" stroke-width="1.5" /><line x1="825.79" y1="504.42" x2="823.22" y2="507.49" stroke="#fff" stroke-width="1.5" /><line x1="823.05" y1="501.15" x2="819.58" y2="503.15" stroke="#fff" stroke-width="1.5" /><line x1="821.59" y1="497.14" x2="817.65" y2="497.83" stroke="#fff" stroke-width="1.5" /><line x1="821.59" y1="492.86" x2="817.65" y2="492.17" stroke="#fff" stroke-width="1.5" /><line x1="823.05" y1="488.85" x2="819.58" y2="486.85" stroke="#fff" stroke-width="1.5" /><line x1="825.79" y1="485.58" x2="823.22" y2="482.51" stroke="#fff" stroke-width="1.5" /><line x1="829.49" y1="483.44" x2="828.13" y2="479.68" stroke="#fff" stroke-width="1.5" /><line x1="833.7" y1="482.7" x2="833.7" y2="478.7" stroke="#fff" stroke-width="1.5" /><line x1="837.91" y1="483.44" x2="839.27" y2="479.68" stroke="#fff" stroke-width="1.5" /><line x1="841.61" y1="485.58" x2="844.18" y2="482.51" stroke="#fff" stroke-width="1.5" /><line x1="844.35" y1="488.85" x2="847.82" y2="486.85" stroke="#fff" stroke-width="1.5" /><line x1="845.81" y1="492.86" x2="849.75" y2="492.17" stroke="#fff" stroke-width="1.5" /><circle cx="833.7" cy="495" r="11.6" stroke="#111" stroke-width="1.0" fill="none" /><circle cx="833.7" cy="495" r="8.2" stroke="#111" stroke-width="1.2" fill="#aaa" /><path d="M829.7,498.5 V492.5 L831.7,490.5 L833.7,493 L835.7,490.5 L837.7,492.5 V498.5 Z" stroke="#111" stroke-width="1.0" fill="#111" stroke-linejoin="round" /><line x1="753.7" y1="495.5" x2="788.7" y2="495.5" stroke="#333" stroke-width="0.9" /><line x1="796.3" y1="495.5" x2="803.7" y2="495.5" stroke="#333" stroke-width="0.9" /><line x1="811.1" y1="495.5" x2="816.1" y2="495.5" stroke="#333" stroke-width="0.9" /><line x1="828.7" y1="495.5" x2="838.7" y2="495.5" stroke="#333" stroke-width="0.9" /><line x1="851.3" y1="495.5" x2="856.3" y2="495.5" stroke="#333" stroke-width="0.9" /><line x1="863.7" y1="495.5" x2="871.1" y2="495.5" stroke="#333" stroke-width="0.9" /><line x1="878.7" y1="495.5" x2="913.7" y2="495.5" stroke="#333" stroke-width="0.9" /><line x1="833.5" y1="416" x2="833.5" y2="450.4" stroke="#333" stroke-width="0.9" /><line x1="833.5" y1="457.8" x2="833.5" y2="465.5" stroke="#333" stroke-width="0.9" /><line x1="833.5" y1="472" x2="833.5" y2="477" stroke="#333" stroke-width="0.9" /><line x1="833.5" y1="489" x2="833.5" y2="501" stroke="#333" stroke-width="0.9" /><line x1="833.5" y1="513" x2="833.5" y2="518" stroke="#333" stroke-width="0.9" /><line x1="833.5" y1="524.5" x2="833.5" y2="532.2" stroke="#333" stroke-width="0.9" /><line x1="833.5" y1="539.4" x2="833.5" y2="561.5" stroke="#333" stroke-width="0.9" /><path d="M754.86,481 A79,79 0 0 1 912.54,481 L903.52,481 A70,70 0 0 0 763.88,481 Z" stroke="#111" stroke-width="1.1" fill="#fff" stroke-linejoin="round" /><circle cx="996" cy="495" r="66.6" stroke="#111" stroke-width="1.1" fill="#fff" /><circle cx="996" cy="495" r="37.2" stroke="#111" stroke-width="1.0" fill="none" /><circle cx="996" cy="495" r="35" stroke="#111" stroke-width="0.8" fill="none" /><circle cx="996" cy="495" r="32.8" stroke="#111" stroke-width="0.9" fill="none" /><path d="M1014.00,473.55 A28,28 0 0 0 978.00,473.55" stroke="#111" stroke-width="0.8" fill="none" stroke-linejoin="round" /><circle cx="996" cy="467" r="2.7" stroke="#111" stroke-width="1.3" fill="#fff" /><circle cx="979.54" cy="472.35" r="2.7" stroke="#111" stroke-width="1.3" fill="#fff" /><circle cx="969.37" cy="486.35" r="2.7" stroke="#111" stroke-width="1.3" fill="#fff" /><circle cx="969.37" cy="503.65" r="2.7" stroke="#111" stroke-width="1.3" fill="#fff" /><circle cx="979.54" cy="517.65" r="2.7" stroke="#111" stroke-width="1.3" fill="#fff" /><circle cx="996" cy="523" r="2.7" stroke="#111" stroke-width="1.3" fill="#fff" /><circle cx="1012.46" cy="517.65" r="2.7" stroke="#111" stroke-width="1.3" fill="#fff" /><circle cx="1022.63" cy="503.65" r="2.7" stroke="#111" stroke-width="1.3" fill="#fff" /><circle cx="1022.63" cy="486.35" r="2.7" stroke="#111" stroke-width="1.3" fill="#fff" /><circle cx="1012.46" cy="472.35" r="2.7" stroke="#111" stroke-width="1.3" fill="#fff" /><circle cx="996" cy="474" r="1.5" stroke="#111" stroke-width="0" fill="#333" /><circle cx="983.66" cy="478.01" r="1.5" stroke="#111" stroke-width="0" fill="#333" /><circle cx="976.03" cy="488.51" r="1.5" stroke="#111" stroke-width="0" fill="#333" /><circle cx="976.03" cy="501.49" r="1.5" stroke="#111" stroke-width="0" fill="#333" /><circle cx="983.66" cy="511.99" r="1.5" stroke="#111" stroke-width="0" fill="#333" /><circle cx="996" cy="516" r="1.5" stroke="#111" stroke-width="0" fill="#333" /><circle cx="1008.34" cy="511.99" r="1.5" stroke="#111" stroke-width="0" fill="#333" /><circle cx="1015.97" cy="501.49" r="1.5" stroke="#111" stroke-width="0" fill="#333" /><circle cx="1015.97" cy="488.51" r="1.5" stroke="#111" stroke-width="0" fill="#333" /><circle cx="1008.34" cy="478.01" r="1.5" stroke="#111" stroke-width="0" fill="#333" /><circle cx="996" cy="495" r="17.2" stroke="#111" stroke-width="1.6" fill="none" /><circle cx="996" cy="495" r="20.5" stroke="#333" stroke-width="0.7" fill="none" /><circle cx="996" cy="495" r="14.3" stroke="#3a3a3a" stroke-width="4.6" fill="none" /><line x1="1008.11" y1="497.14" x2="1012.05" y2="497.83" stroke="#fff" stroke-width="1.5" /><line x1="1006.65" y1="501.15" x2="1010.12" y2="503.15" stroke="#fff" stroke-width="1.5" /><line x1="1003.91" y1="504.42" x2="1006.48" y2="507.49" stroke="#fff" stroke-width="1.5" /><line x1="1000.21" y1="506.56" x2="1001.57" y2="510.32" stroke="#fff" stroke-width="1.5" /><line x1="996" y1="507.3" x2="996" y2="511.3" stroke="#fff" stroke-width="1.5" /><line x1="991.79" y1="506.56" x2="990.43" y2="510.32" stroke="#fff" stroke-width="1.5" /><line x1="988.09" y1="504.42" x2="985.52" y2="507.49" stroke="#fff" stroke-width="1.5" /><line x1="985.35" y1="501.15" x2="981.88" y2="503.15" stroke="#fff" stroke-width="1.5" /><line x1="983.89" y1="497.14" x2="979.95" y2="497.83" stroke="#fff" stroke-width="1.5" /><line x1="983.89" y1="492.86" x2="979.95" y2="492.17" stroke="#fff" stroke-width="1.5" /><line x1="985.35" y1="488.85" x2="981.88" y2="486.85" stroke="#fff" stroke-width="1.5" /><line x1="988.09" y1="485.58" x2="985.52" y2="482.51" stroke="#fff" stroke-width="1.5" /><line x1="991.79" y1="483.44" x2="990.43" y2="479.68" stroke="#fff" stroke-width="1.5" /><line x1="996" y1="482.7" x2="996" y2="478.7" stroke="#fff" stroke-width="1.5" /><line x1="1000.21" y1="483.44" x2="1001.57" y2="479.68" stroke="#fff" stroke-width="1.5" /><line x1="1003.91" y1="485.58" x2="1006.48" y2="482.51" stroke="#fff" stroke-width="1.5" /><line x1="1006.65" y1="488.85" x2="1010.12" y2="486.85" stroke="#fff" stroke-width="1.5" /><line x1="1008.11" y1="492.86" x2="1012.05" y2="492.17" stroke="#fff" stroke-width="1.5" /><circle cx="996" cy="495" r="11.6" stroke="#111" stroke-width="1.0" fill="none" /><circle cx="996" cy="495" r="8.2" stroke="#111" stroke-width="1.2" fill="#aaa" /><path d="M992,498.5 V492.5 L994,490.5 L996,493 L998,490.5 L1000,492.5 V498.5 Z" stroke="#111" stroke-width="1.0" fill="#111" stroke-linejoin="round" /><line x1="916" y1="495.5" x2="951" y2="495.5" stroke="#333" stroke-width="0.9" /><line x1="958.6" y1="495.5" x2="966" y2="495.5" stroke="#333" stroke-width="0.9" /><line x1="973.4" y1="495.5" x2="978.4" y2="495.5" stroke="#333" stroke-width="0.9" /><line x1="991" y1="495.5" x2="1001" y2="495.5" stroke="#333" stroke-width="0.9" /><line x1="1013.6" y1="495.5" x2="1018.6" y2="495.5" stroke="#333" stroke-width="0.9" /><line x1="1026" y1="495.5" x2="1033.4" y2="495.5" stroke="#333" stroke-width="0.9" /><line x1="1041" y1="495.5" x2="1076" y2="495.5" stroke="#333" stroke-width="0.9" /><line x1="996.5" y1="416" x2="996.5" y2="450.4" stroke="#333" stroke-width="0.9" /><line x1="996.5" y1="457.8" x2="996.5" y2="465.5" stroke="#333" stroke-width="0.9" /><line x1="996.5" y1="472" x2="996.5" y2="477" stroke="#333" stroke-width="0.9" /><line x1="996.5" y1="489" x2="996.5" y2="501" stroke="#333" stroke-width="0.9" /><line x1="996.5" y1="513" x2="996.5" y2="518" stroke="#333" stroke-width="0.9" /><line x1="996.5" y1="524.5" x2="996.5" y2="532.2" stroke="#333" stroke-width="0.9" /><line x1="996.5" y1="539.4" x2="996.5" y2="561.5" stroke="#333" stroke-width="0.9" /><path d="M917.16,481 A79,79 0 0 1 1074.84,481 L1065.82,481 A70,70 0 0 0 926.18,481 Z" stroke="#111" stroke-width="1.1" fill="#fff" stroke-linejoin="round" /><circle cx="1158.3" cy="495" r="66.6" stroke="#111" stroke-width="1.1" fill="#fff" /><circle cx="1158.3" cy="495" r="37.2" stroke="#111" stroke-width="1.0" fill="none" /><circle cx="1158.3" cy="495" r="35" stroke="#111" stroke-width="0.8" fill="none" /><circle cx="1158.3" cy="495" r="32.8" stroke="#111" stroke-width="0.9" fill="none" /><path d="M1176.30,473.55 A28,28 0 0 0 1140.30,473.55" stroke="#111" stroke-width="0.8" fill="none" stroke-linejoin="round" /><circle cx="1158.3" cy="467" r="2.7" stroke="#111" stroke-width="1.3" fill="#fff" /><circle cx="1141.84" cy="472.35" r="2.7" stroke="#111" stroke-width="1.3" fill="#fff" /><circle cx="1131.67" cy="486.35" r="2.7" stroke="#111" stroke-width="1.3" fill="#fff" /><circle cx="1131.67" cy="503.65" r="2.7" stroke="#111" stroke-width="1.3" fill="#fff" /><circle cx="1141.84" cy="517.65" r="2.7" stroke="#111" stroke-width="1.3" fill="#fff" /><circle cx="1158.3" cy="523" r="2.7" stroke="#111" stroke-width="1.3" fill="#fff" /><circle cx="1174.76" cy="517.65" r="2.7" stroke="#111" stroke-width="1.3" fill="#fff" /><circle cx="1184.93" cy="503.65" r="2.7" stroke="#111" stroke-width="1.3" fill="#fff" /><circle cx="1184.93" cy="486.35" r="2.7" stroke="#111" stroke-width="1.3" fill="#fff" /><circle cx="1174.76" cy="472.35" r="2.7" stroke="#111" stroke-width="1.3" fill="#fff" /><circle cx="1158.3" cy="474" r="1.5" stroke="#111" stroke-width="0" fill="#333" /><circle cx="1145.96" cy="478.01" r="1.5" stroke="#111" stroke-width="0" fill="#333" /><circle cx="1138.33" cy="488.51" r="1.5" stroke="#111" stroke-width="0" fill="#333" /><circle cx="1138.33" cy="501.49" r="1.5" stroke="#111" stroke-width="0" fill="#333" /><circle cx="1145.96" cy="511.99" r="1.5" stroke="#111" stroke-width="0" fill="#333" /><circle cx="1158.3" cy="516" r="1.5" stroke="#111" stroke-width="0" fill="#333" /><circle cx="1170.64" cy="511.99" r="1.5" stroke="#111" stroke-width="0" fill="#333" /><circle cx="1178.27" cy="501.49" r="1.5" stroke="#111" stroke-width="0" fill="#333" /><circle cx="1178.27" cy="488.51" r="1.5" stroke="#111" stroke-width="0" fill="#333" /><circle cx="1170.64" cy="478.01" r="1.5" stroke="#111" stroke-width="0" fill="#333" /><circle cx="1158.3" cy="495" r="17.2" stroke="#111" stroke-width="1.6" fill="none" /><circle cx="1158.3" cy="495" r="20.5" stroke="#333" stroke-width="0.7" fill="none" /><circle cx="1158.3" cy="495" r="14.3" stroke="#3a3a3a" stroke-width="4.6" fill="none" /><line x1="1170.41" y1="497.14" x2="1174.35" y2="497.83" stroke="#fff" stroke-width="1.5" /><line x1="1168.95" y1="501.15" x2="1172.42" y2="503.15" stroke="#fff" stroke-width="1.5" /><line x1="1166.21" y1="504.42" x2="1168.78" y2="507.49" stroke="#fff" stroke-width="1.5" /><line x1="1162.51" y1="506.56" x2="1163.87" y2="510.32" stroke="#fff" stroke-width="1.5" /><line x1="1158.3" y1="507.3" x2="1158.3" y2="511.3" stroke="#fff" stroke-width="1.5" /><line x1="1154.09" y1="506.56" x2="1152.73" y2="510.32" stroke="#fff" stroke-width="1.5" /><line x1="1150.39" y1="504.42" x2="1147.82" y2="507.49" stroke="#fff" stroke-width="1.5" /><line x1="1147.65" y1="501.15" x2="1144.18" y2="503.15" stroke="#fff" stroke-width="1.5" /><line x1="1146.19" y1="497.14" x2="1142.25" y2="497.83" stroke="#fff" stroke-width="1.5" /><line x1="1146.19" y1="492.86" x2="1142.25" y2="492.17" stroke="#fff" stroke-width="1.5" /><line x1="1147.65" y1="488.85" x2="1144.18" y2="486.85" stroke="#fff" stroke-width="1.5" /><line x1="1150.39" y1="485.58" x2="1147.82" y2="482.51" stroke="#fff" stroke-width="1.5" /><line x1="1154.09" y1="483.44" x2="1152.73" y2="479.68" stroke="#fff" stroke-width="1.5" /><line x1="1158.3" y1="482.7" x2="1158.3" y2="478.7" stroke="#fff" stroke-width="1.5" /><line x1="1162.51" y1="483.44" x2="1163.87" y2="479.68" stroke="#fff" stroke-width="1.5" /><line x1="1166.21" y1="485.58" x2="1168.78" y2="482.51" stroke="#fff" stroke-width="1.5" /><line x1="1168.95" y1="488.85" x2="1172.42" y2="486.85" stroke="#fff" stroke-width="1.5" /><line x1="1170.41" y1="492.86" x2="1174.35" y2="492.17" stroke="#fff" stroke-width="1.5" /><circle cx="1158.3" cy="495" r="11.6" stroke="#111" stroke-width="1.0" fill="none" /><circle cx="1158.3" cy="495" r="8.2" stroke="#111" stroke-width="1.2" fill="#aaa" /><path d="M1154.3,498.5 V492.5 L1156.3,490.5 L1158.3,493 L1160.3,490.5 L1162.3,492.5 V498.5 Z" stroke="#111" stroke-width="1.0" fill="#111" stroke-linejoin="round" /><line x1="1078.3" y1="495.5" x2="1113.3" y2="495.5" stroke="#333" stroke-width="0.9" /><line x1="1120.9" y1="495.5" x2="1128.3" y2="495.5" stroke="#333" stroke-width="0.9" /><line x1="1135.7" y1="495.5" x2="1140.7" y2="495.5" stroke="#333" stroke-width="0.9" /><line x1="1153.3" y1="495.5" x2="1163.3" y2="495.5" stroke="#333" stroke-width="0.9" /><line x1="1175.9" y1="495.5" x2="1180.9" y2="495.5" stroke="#333" stroke-width="0.9" /><line x1="1188.3" y1="495.5" x2="1195.7" y2="495.5" stroke="#333" stroke-width="0.9" /><line x1="1203.3" y1="495.5" x2="1238.3" y2="495.5" stroke="#333" stroke-width="0.9" /><line x1="1158.5" y1="416" x2="1158.5" y2="450.4" stroke="#333" stroke-width="0.9" /><line x1="1158.5" y1="457.8" x2="1158.5" y2="465.5" stroke="#333" stroke-width="0.9" /><line x1="1158.5" y1="472" x2="1158.5" y2="477" stroke="#333" stroke-width="0.9" /><line x1="1158.5" y1="489" x2="1158.5" y2="501" stroke="#333" stroke-width="0.9" /><line x1="1158.5" y1="513" x2="1158.5" y2="518" stroke="#333" stroke-width="0.9" /><line x1="1158.5" y1="524.5" x2="1158.5" y2="532.2" stroke="#333" stroke-width="0.9" /><line x1="1158.5" y1="539.4" x2="1158.5" y2="561.5" stroke="#333" stroke-width="0.9" /><path d="M1079.46,481 A79,79 0 0 1 1237.14,481 L1228.12,481 A70,70 0 0 0 1088.48,481 Z" stroke="#111" stroke-width="1.1" fill="#fff" stroke-linejoin="round" /><circle cx="840.5" cy="396.3" r="1.3" stroke="#111" stroke-width="0" fill="#111" /><circle cx="850.5" cy="396.3" r="1.3" stroke="#111" stroke-width="0" fill="#111" /><circle cx="845.5" cy="401.3" r="1.3" stroke="#111" stroke-width="0" fill="#111" /><circle cx="896.8" cy="396.3" r="1.3" stroke="#111" stroke-width="0" fill="#111" /><circle cx="906.8" cy="396.3" r="1.3" stroke="#111" stroke-width="0" fill="#111" /><circle cx="901.8" cy="401.3" r="1.3" stroke="#111" stroke-width="0" fill="#111" /><rect x="933" y="399.5" width="13.8" height="4.3" rx="2.1" stroke="#111" stroke-width="1.0" fill="none" /><circle cx="936" cy="401.6" r="0.7" stroke="#111" stroke-width="0" fill="#111" /><circle cx="943.8" cy="401.6" r="0.7" stroke="#111" stroke-width="0" fill="#111" /><path d="M771.45,437.36 L770.36,438.79 L769.3,440.24 L768.28,441.71 L767.3,443.21 L766.34,444.72 L765.42,446.26 L764.54,447.82 L763.69,449.4 L762.88,451 L762.1,452.61 L761.36,454.25 L760.66,455.9 L760,457.56 L759.37,459.24 L758.78,460.93 L758.23,462.64 L757.72,464.36 L757.25,466.09 L756.82,467.83 L756.43,469.57 L756.43,469.57 L756.39,467.73 L756.41,465.87 L756.5,464.01 L756.66,462.15 L756.9,460.3 L757.24,458.47 L757.67,456.66 L758.2,454.88 L758.83,453.13 L759.56,451.43 L760.4,449.77 L761.33,448.17 L762.35,446.61 L763.46,445.12 L764.65,443.69 L765.91,442.31 L767.23,441 L768.6,439.74 L770.01,438.53 L771.45,437.36 Z" stroke="#111" stroke-width="0.6" fill="#222" stroke-linejoin="round" /><path d="M895.95,437.36 L897.04,438.79 L898.1,440.24 L899.12,441.71 L900.1,443.21 L901.06,444.72 L901.98,446.26 L902.86,447.82 L903.71,449.4 L904.52,451 L905.3,452.61 L906.04,454.25 L906.74,455.9 L907.4,457.56 L908.03,459.24 L908.62,460.93 L909.17,462.64 L909.68,464.36 L910.15,466.09 L910.58,467.83 L910.97,469.57 L910.97,469.57 L911.01,467.73 L910.99,465.87 L910.9,464.01 L910.74,462.15 L910.5,460.3 L910.16,458.47 L909.73,456.66 L909.2,454.88 L908.57,453.13 L907.84,451.43 L907,449.77 L906.07,448.17 L905.05,446.61 L903.94,445.12 L902.75,443.69 L901.49,442.31 L900.17,441 L898.8,439.74 L897.39,438.53 L895.95,437.36 Z" stroke="#111" stroke-width="0.6" fill="#222" stroke-linejoin="round" /><path d="M933.75,437.36 L932.66,438.79 L931.6,440.24 L930.58,441.71 L929.6,443.21 L928.64,444.72 L927.72,446.26 L926.84,447.82 L925.99,449.4 L925.18,451 L924.4,452.61 L923.66,454.25 L922.96,455.9 L922.3,457.56 L921.67,459.24 L921.08,460.93 L920.53,462.64 L920.02,464.36 L919.55,466.09 L919.12,467.83 L918.73,469.57 L918.73,469.57 L918.69,467.73 L918.71,465.87 L918.8,464.01 L918.96,462.15 L919.2,460.3 L919.54,458.47 L919.97,456.66 L920.5,454.88 L921.13,453.13 L921.86,451.43 L922.7,449.77 L923.63,448.17 L924.65,446.61 L925.76,445.12 L926.95,443.69 L928.21,442.31 L929.53,441 L930.9,439.74 L932.31,438.53 L933.75,437.36 Z" stroke="#111" stroke-width="0.6" fill="#222" stroke-linejoin="round" /><path d="M1058.25,437.36 L1059.34,438.79 L1060.4,440.24 L1061.42,441.71 L1062.4,443.21 L1063.36,444.72 L1064.28,446.26 L1065.16,447.82 L1066.01,449.4 L1066.82,451 L1067.6,452.61 L1068.34,454.25 L1069.04,455.9 L1069.7,457.56 L1070.33,459.24 L1070.92,460.93 L1071.47,462.64 L1071.98,464.36 L1072.45,466.09 L1072.88,467.83 L1073.27,469.57 L1073.27,469.57 L1073.31,467.73 L1073.29,465.87 L1073.2,464.01 L1073.04,462.15 L1072.8,460.3 L1072.46,458.47 L1072.03,456.66 L1071.5,454.88 L1070.87,453.13 L1070.14,451.43 L1069.3,449.77 L1068.37,448.17 L1067.35,446.61 L1066.24,445.12 L1065.05,443.69 L1063.79,442.31 L1062.47,441 L1061.1,439.74 L1059.69,438.53 L1058.25,437.36 Z" stroke="#111" stroke-width="0.6" fill="#222" stroke-linejoin="round" /><path d="M1096.05,437.36 L1094.96,438.79 L1093.9,440.24 L1092.88,441.71 L1091.9,443.21 L1090.94,444.72 L1090.02,446.26 L1089.14,447.82 L1088.29,449.4 L1087.48,451 L1086.7,452.61 L1085.96,454.25 L1085.26,455.9 L1084.6,457.56 L1083.97,459.24 L1083.38,460.93 L1082.83,462.64 L1082.32,464.36 L1081.85,466.09 L1081.42,467.83 L1081.03,469.57 L1081.03,469.57 L1080.99,467.73 L1081.01,465.87 L1081.1,464.01 L1081.26,462.15 L1081.5,460.3 L1081.84,458.47 L1082.27,456.66 L1082.8,454.88 L1083.43,453.13 L1084.16,451.43 L1085,449.77 L1085.93,448.17 L1086.95,446.61 L1088.06,445.12 L1089.25,443.69 L1090.51,442.31 L1091.83,441 L1093.2,439.74 L1094.61,438.53 L1096.05,437.36 Z" stroke="#111" stroke-width="0.6" fill="#222" stroke-linejoin="round" /><path d="M1220.55,437.36 L1221.64,438.79 L1222.7,440.24 L1223.72,441.71 L1224.7,443.21 L1225.66,444.72 L1226.58,446.26 L1227.46,447.82 L1228.31,449.4 L1229.12,451 L1229.9,452.61 L1230.64,454.25 L1231.34,455.9 L1232,457.56 L1232.63,459.24 L1233.22,460.93 L1233.77,462.64 L1234.28,464.36 L1234.75,466.09 L1235.18,467.83 L1235.57,469.57 L1235.57,469.57 L1235.61,467.73 L1235.59,465.87 L1235.5,464.01 L1235.34,462.15 L1235.1,460.3 L1234.76,458.47 L1234.33,456.66 L1233.8,454.88 L1233.17,453.13 L1232.44,451.43 L1231.6,449.77 L1230.67,448.17 L1229.65,446.61 L1228.54,445.12 L1227.35,443.69 L1226.09,442.31 L1224.77,441 L1223.4,439.74 L1221.99,438.53 L1220.55,437.36 Z" stroke="#111" stroke-width="0.6" fill="#222" stroke-linejoin="round" /><line x1="759.3" y1="436" x2="757" y2="449.5" stroke="#111" stroke-width="6.4" stroke-linecap="round"/><line x1="759.3" y1="436" x2="757" y2="449.5" stroke="#fff" stroke-width="4.0" stroke-linecap="round"/><circle cx="757" cy="449.5" r="3.1" stroke="#111" stroke-width="1.4" fill="#fff" /><circle cx="757.5" cy="454" r="2.2" stroke="#111" stroke-width="0" fill="#111" /><line x1="907.3" y1="435.6" x2="910.1" y2="449.2" stroke="#111" stroke-width="6.4" stroke-linecap="round"/><line x1="907.3" y1="435.6" x2="910.1" y2="449.2" stroke="#fff" stroke-width="4.0" stroke-linecap="round"/><circle cx="910.1" cy="449.2" r="3.1" stroke="#111" stroke-width="1.4" fill="#fff" /><circle cx="910.6" cy="453.7" r="2.2" stroke="#111" stroke-width="0" fill="#111" /><line x1="922.1" y1="435.6" x2="918.8" y2="449.2" stroke="#111" stroke-width="6.4" stroke-linecap="round"/><line x1="922.1" y1="435.6" x2="918.8" y2="449.2" stroke="#fff" stroke-width="4.0" stroke-linecap="round"/><circle cx="918.8" cy="449.2" r="3.1" stroke="#111" stroke-width="1.4" fill="#fff" /><circle cx="919.3" cy="453.7" r="2.2" stroke="#111" stroke-width="0" fill="#111" /><line x1="912.5" y1="481" x2="912.5" y2="525" stroke="#111" stroke-width="1.1" /><path d="M925.4,481 L923.7,488.4 L929.5,488.4 L929.5,500" stroke="#111" stroke-width="1.0" fill="none" stroke-linejoin="round" /><path d="M899.9,481 L899.9,500" stroke="#111" stroke-width="1.0" fill="none" stroke-linejoin="round" /><line x1="1069" y1="435.6" x2="1071.8" y2="449.2" stroke="#111" stroke-width="6.4" stroke-linecap="round"/><line x1="1069" y1="435.6" x2="1071.8" y2="449.2" stroke="#fff" stroke-width="4.0" stroke-linecap="round"/><circle cx="1071.8" cy="449.2" r="3.1" stroke="#111" stroke-width="1.4" fill="#fff" /><circle cx="1072.3" cy="453.7" r="2.2" stroke="#111" stroke-width="0" fill="#111" /><line x1="1083.8" y1="435.6" x2="1080.5" y2="449.2" stroke="#111" stroke-width="6.4" stroke-linecap="round"/><line x1="1083.8" y1="435.6" x2="1080.5" y2="449.2" stroke="#fff" stroke-width="4.0" stroke-linecap="round"/><circle cx="1080.5" cy="449.2" r="3.1" stroke="#111" stroke-width="1.4" fill="#fff" /><circle cx="1081" cy="453.7" r="2.2" stroke="#111" stroke-width="0" fill="#111" /><line x1="1074.5" y1="481" x2="1074.5" y2="525" stroke="#111" stroke-width="1.1" /><path d="M1087.1,481 L1085.4,488.4 L1091.2,488.4 L1091.2,500" stroke="#111" stroke-width="1.0" fill="none" stroke-linejoin="round" /><path d="M1061.6,481 L1061.6,500" stroke="#111" stroke-width="1.0" fill="none" stroke-linejoin="round" /><line x1="1233" y1="440.8" x2="1234.8" y2="449.1" stroke="#111" stroke-width="6.4" stroke-linecap="round"/><line x1="1233" y1="440.8" x2="1234.8" y2="449.1" stroke="#fff" stroke-width="4.0" stroke-linecap="round"/><circle cx="1234.8" cy="449.1" r="3.1" stroke="#111" stroke-width="1.4" fill="#fff" /><circle cx="1235.3" cy="453.6" r="2.2" stroke="#111" stroke-width="0" fill="#111" /><circle cx="770.8" cy="465.5" r="3.6" stroke="#111" stroke-width="0" fill="#111" /><circle cx="781.7" cy="451.5" r="2.2" stroke="#111" stroke-width="1.0" fill="none" /><line x1="774.7" y1="447.5" x2="786.7" y2="447.5" stroke="#111" stroke-width="1.6" /><line x1="880.7" y1="447.5" x2="892.7" y2="447.5" stroke="#111" stroke-width="1.6" /><circle cx="933.1" cy="465.5" r="3.6" stroke="#111" stroke-width="0" fill="#111" /><circle cx="944" cy="451.5" r="2.2" stroke="#111" stroke-width="1.0" fill="none" /><line x1="937" y1="447.5" x2="949" y2="447.5" stroke="#111" stroke-width="1.6" /><line x1="1043" y1="447.5" x2="1055" y2="447.5" stroke="#111" stroke-width="1.6" /><circle cx="1095.4" cy="465.5" r="3.6" stroke="#111" stroke-width="0" fill="#111" /><circle cx="1106.3" cy="451.5" r="2.2" stroke="#111" stroke-width="1.0" fill="none" /><line x1="1099.3" y1="447.5" x2="1111.3" y2="447.5" stroke="#111" stroke-width="1.6" /><line x1="1205.3" y1="447.5" x2="1217.3" y2="447.5" stroke="#111" stroke-width="1.6" /><path d="M762.5,481 V486.3 H767.5" stroke="#111" stroke-width="1.0" fill="none" stroke-linejoin="round" /><path d="M757.5,493 Q755.5,489 758,487.5 L762,487 L766,492 L763,497 Z" stroke="#111" stroke-width="1.0" fill="#fff" stroke-linejoin="round" /><path d="M763,491.5 L767.5,491 L767,496 L763.5,497 Z" stroke="#111" stroke-width="0" fill="#222" stroke-linejoin="round" /><path d="M758.5,500.5 L762,498 L768,503.5 L765,506.5 Z" stroke="#111" stroke-width="0.8" fill="#333" stroke-linejoin="round" /><path d="M755.6,504 L772.5,522.3 L769.2,512.1 L762,502" stroke="#111" stroke-width="1.1" fill="none" stroke-linejoin="round" /><path d="M758.5,514.5 L761.5,512 L764.5,515 L761.5,518 Z" stroke="#111" stroke-width="0.9" fill="#555" stroke-linejoin="round" /><line x1="748.5" y1="509.5" x2="758" y2="509.5" stroke="#777" stroke-width="2.0" /><path d="M745,457.6 H756 M733,445 Q741,447 742,457" stroke="#111" stroke-width="1.0" fill="none" stroke-linejoin="round" /><path d="M1192.2,180.9 L1230.2,172.9 Q1240,171.5 1248.3,175.7" stroke="#111" stroke-width="1.2" fill="none" stroke-linejoin="round" /><line x1="1192.2" y1="180.9" x2="1232.6" y2="330" stroke="#111" stroke-width="1.2" /><line x1="1232.6" y1="330" x2="1247.7" y2="388.3" stroke="#111" stroke-width="1.2" /><path d="M1248.3,175.7 Q1254,180 1253,184" stroke="#111" stroke-width="1.2" fill="none" stroke-linejoin="round" /><line x1="1253" y1="184" x2="1282.1" y2="293.6" stroke="#111" stroke-width="1.2" /><line x1="1235.1" y1="183.9" x2="1268.1" y2="294.4" stroke="#111" stroke-width="1.3" /><line x1="1239.2" y1="184" x2="1269.8" y2="294" stroke="#111" stroke-width="1.0" /><line x1="1268.1" y1="294.5" x2="1282.1" y2="294.5" stroke="#111" stroke-width="1.0" /><line x1="1192.2" y1="180.9" x2="1232" y2="186" stroke="#111" stroke-width="1.0" /><path d="M1220,178 L1228,176 L1232,184 Z" stroke="#111" stroke-width="1.0" fill="#fff" stroke-linejoin="round" /><circle cx="1229" cy="177.5" r="2.3" stroke="#111" stroke-width="0" fill="#111" /><path d="M1251.6,181.4 L1309.3,181.4 L1309.3,202.9 L1297.8,209.5" stroke="#111" stroke-width="1.1" fill="none" stroke-linejoin="round" /><path d="M1292,218 L1294,211 L1298,208.5 L1303,213 L1301,219 Z" stroke="#111" stroke-width="1.1" fill="#fff" stroke-linejoin="round" /><circle cx="1298.5" cy="214" r="1.6" stroke="#111" stroke-width="1.0" fill="none" /><path d="M1292,216.9 L1261.5,218.5 L1252.4,230" stroke="#111" stroke-width="1.0" fill="none" stroke-linejoin="round" /><line x1="1296.5" y1="218" x2="1296.5" y2="315" stroke="#111" stroke-width="1.0" /><line x1="1233" y1="330.5" x2="1275" y2="330.5" stroke="#111" stroke-width="1.0" /><line x1="1266.4" y1="294.4" x2="1292.5" y2="390" stroke="#111" stroke-width="1.0" /><path d="M1282.1,294.4 L1324,363.8 L1329.2,393" stroke="#111" stroke-width="1.1" fill="none" stroke-linejoin="round" /><line x1="1280.3" y1="340.5" x2="1290.8" y2="377.8" stroke="#111" stroke-width="1.3" /><line x1="1282.8" y1="340.5" x2="1292" y2="374" stroke="#111" stroke-width="0.8" /><path d="M1247.7,388.3 Q1249,392.9 1252,392.9 H1329.2" stroke="#111" stroke-width="1.2" fill="none" stroke-linejoin="round" /><path d="M1120.8,274.3 L1163.8,274.3 L1183.3,344.2 L1138.4,344.2 Z" stroke="#111" stroke-width="1.1" fill="none" stroke-linejoin="round" /><path d="M1032,371.2 H1090.8 L1076.25,396.5 Q1075,398.5 1072.5,398.5 L1063.2,390.2 L1049.7,379.3 Q1040,373 1032,371.2 Z" stroke="#111" stroke-width="1.1" fill="#fff" stroke-linejoin="round" /><path d="M1059.6,367.8 H1081.5 L1079.5,371.2 H1057.5 Z" stroke="#111" stroke-width="1.3" fill="#fff" stroke-linejoin="round" /><line x1="1059.6" y1="367.8" x2="1050.7" y2="378.75" stroke="#111" stroke-width="1.1" /><line x1="1081.5" y1="367.8" x2="1063.75" y2="390" stroke="#111" stroke-width="1.1" /><path d="M1036,379.4 H1086" stroke="#111" stroke-width="1.5" fill="none" stroke-linejoin="round" stroke-dasharray="8,1.6"/><line x1="1078.5" y1="386.8" x2="1078.5" y2="398" stroke="#111" stroke-width="1.3" /><line x1="1001" y1="387" x2="1028.3" y2="413" stroke="#111" stroke-width="1.1" /><line x1="1145" y1="367.6" x2="1149.5" y2="386.5" stroke="#111" stroke-width="1.0" /><line x1="1189.5" y1="367.6" x2="1196.5" y2="387" stroke="#111" stroke-width="1.0" /><path d="M1150,386.5 L1199.4,393.2 L1199.4,395.2 L1205.6,395.2 L1221,408.4" stroke="#111" stroke-width="1.2" fill="none" stroke-linejoin="round" /><line x1="1206" y1="380.5" x2="1206" y2="388" stroke="#111" stroke-width="1.6" /><line x1="1221" y1="380.5" x2="1221" y2="388" stroke="#111" stroke-width="1.6" /><line x1="1238" y1="380.5" x2="1238" y2="388" stroke="#111" stroke-width="1.6" /><line x1="1200" y1="388.3" x2="1245" y2="388.3" stroke="#111" stroke-width="2.0" /><path d="M1245,388.3 L1240,410 L1234,411" stroke="#111" stroke-width="1.0" fill="none" stroke-linejoin="round" /><circle cx="1229.2" cy="398.9" r="9.5" stroke="#111" stroke-width="1.1" fill="none" /><circle cx="1229.2" cy="398.9" r="7.5" stroke="#111" stroke-width="1.0" fill="none" /><path d="M1266,393 Q1268,400 1280,400.5 H1293 Q1302,399.5 1304,393" stroke="#111" stroke-width="1.1" fill="none" stroke-linejoin="round" /><circle cx="1276.8" cy="395.2" r="2.5" stroke="#111" stroke-width="1.3" fill="none" /><path d="M1221,408.4 L1233,411.3" stroke="#111" stroke-width="1.0" fill="none" stroke-linejoin="round" /><rect x="1219.5" y="411.3" width="12" height="20.9" rx="0" stroke="#111" stroke-width="1.6" fill="#fff" /><rect x="1221" y="413" width="4.5" height="6" rx="0" stroke="#111" stroke-width="0" fill="#333" /><rect x="1228.5" y="413" width="2.2" height="18" rx="0" stroke="#111" stroke-width="0" fill="#555" /><rect x="1221.5" y="420.5" width="5.5" height="10" rx="0" stroke="#111" stroke-width="0.9" fill="#fff" /><circle cx="1223.5" cy="427.5" r="1" stroke="#111" stroke-width="0.8" fill="none" /><path d="M1232.2,410.7 L1241,422.7 L1241,448 L1237.2,448" stroke="#111" stroke-width="1.3" fill="none" stroke-linejoin="round" /><path d="M1241,436.6 L1270.6,464.3 L1270.6,492.7 L1238,492.7" stroke="#111" stroke-width="1.1" fill="none" stroke-linejoin="round" /><path d="M1237.8,470 L1241.6,465.6 L1264.3,465.6 L1264.3,478.2 L1266.2,478.2 L1266.2,488" stroke="#111" stroke-width="0.9" fill="none" stroke-linejoin="round" /><circle cx="1243.5" cy="468.5" r="1.2" stroke="#111" stroke-width="0" fill="#333" /><circle cx="1243.5" cy="473.5" r="1.2" stroke="#111" stroke-width="0" fill="#333" /><circle cx="1249.5" cy="468.5" r="1.2" stroke="#111" stroke-width="0" fill="#333" /><circle cx="1249.5" cy="473.5" r="1.2" stroke="#111" stroke-width="0" fill="#333" /><circle cx="1255.5" cy="468.5" r="1.2" stroke="#111" stroke-width="0" fill="#333" /><circle cx="1255.5" cy="473.5" r="1.2" stroke="#111" stroke-width="0" fill="#333" /><circle cx="1261.5" cy="468.5" r="1.2" stroke="#111" stroke-width="0" fill="#333" /><circle cx="1261.5" cy="473.5" r="1.2" stroke="#111" stroke-width="0" fill="#333" /><rect x="1229" y="481" width="8.5" height="13" rx="0" stroke="#111" stroke-width="0.9" fill="none" /><path d="M1241.6,476.3 L1287,500.9 L1280.7,511 L1238.5,487 Q1235,481 1241.6,476.3 Z" stroke="#111" stroke-width="1.1" fill="#fff" stroke-linejoin="round" /><circle cx="1286.4" cy="507.8" r="6.9" stroke="#111" stroke-width="1.1" fill="#fff" /><circle cx="1243.5" cy="482.8" r="2.6" stroke="#111" stroke-width="1.0" fill="#fff" /><line x1="1237.5" y1="470" x2="1237.5" y2="525.6" stroke="#111" stroke-width="1.1" /><line x1="287.5" y1="693.2" x2="287.5" y2="1003.4" stroke="#111" stroke-width="1.1" /><line x1="287.7" y1="693.5" x2="1300" y2="693.5" stroke="#111" stroke-width="1.2" /><line x1="287.7" y1="1003.5" x2="1300" y2="1003.5" stroke="#111" stroke-width="1.2" /><path d="M755.5,693.6 Q757,692.4 760,692.4 H1192" stroke="#111" stroke-width="1.0" fill="none" stroke-linejoin="round" /><path d="M755.5,1002.9 Q757,1004.2 760,1004.2 H1192" stroke="#111" stroke-width="1.0" fill="none" stroke-linejoin="round" /><path d="M908,693.2 L913,693.8000000000001" stroke="#111" stroke-width="1.8" fill="none" stroke-linejoin="round" /><path d="M915,693.8000000000001 L920,693.2" stroke="#111" stroke-width="1.8" fill="none" stroke-linejoin="round" /><path d="M908,1003.4 L913,1002.8" stroke="#111" stroke-width="1.8" fill="none" stroke-linejoin="round" /><path d="M915,1002.8 L920,1003.4" stroke="#111" stroke-width="1.8" fill="none" stroke-linejoin="round" /><path d="M1070.5,693.2 L1075.5,693.8000000000001" stroke="#111" stroke-width="1.8" fill="none" stroke-linejoin="round" /><path d="M1077.5,693.8000000000001 L1082.5,693.2" stroke="#111" stroke-width="1.8" fill="none" stroke-linejoin="round" /><path d="M1070.5,1003.4 L1075.5,1002.8" stroke="#111" stroke-width="1.8" fill="none" stroke-linejoin="round" /><path d="M1077.5,1002.8 L1082.5,1003.4" stroke="#111" stroke-width="1.8" fill="none" stroke-linejoin="round" /><line x1="335.7" y1="707.5" x2="1290" y2="707.5" stroke="#111" stroke-width="1.1" /><line x1="335.7" y1="989.5" x2="1290" y2="989.5" stroke="#111" stroke-width="1.1" /><line x1="392.4" y1="719.5" x2="1245.2" y2="719.5" stroke="#111" stroke-width="1.1" /><line x1="392.4" y1="977.5" x2="1245.2" y2="977.5" stroke="#111" stroke-width="1.1" /><path d="M335.3,693.5 C331,697 332,701 332.7,702 C333.5,704 334,706 335.7,707.5" stroke="#111" stroke-width="1.0" fill="none" stroke-linejoin="round" /><path d="M335.3,1003 C331,999.5 332,995.5 332.7,994.5 C333.5,992.5 334,990.5 335.7,989" stroke="#111" stroke-width="1.0" fill="none" stroke-linejoin="round" /><line x1="378.5" y1="707.5" x2="378.5" y2="989" stroke="#111" stroke-width="1.1" /><path d="M392.4,719.2 C395,721 397,724 397.5,726 C399,731 400,737 401.2,740.6 C403,745 406,749 408.1,752.8 C410.5,758 412,764 412.1,770 V926.5 C412,932 410,939 408.3,944 C406,949 402.5,952 400.9,955.8 C399,960 398,967 397,970.6 C396,973 394.5,975.5 393,976.9 C390,980.5 386.5,984.5 384,986.3 C382,987.8 380,988.8 378.6,989" stroke="#111" stroke-width="1.0" fill="none" stroke-linejoin="round" /><path d="M341.8,727.5 L360.3,707.5 L364.3,707.5 L345,727.5 Z" stroke="#111" stroke-width="1.0" fill="none" stroke-linejoin="round" /><path d="M355.3,727.5 L373.8,707.5 L377.8,707.5 L358.5,727.5 Z" stroke="#111" stroke-width="1.0" fill="none" stroke-linejoin="round" /><path d="M369,727.5 L387.5,707.5 L391.5,707.5 L372.2,727.5 Z" stroke="#111" stroke-width="1.0" fill="none" stroke-linejoin="round" /><path d="M382.3,727.5 L400.8,707.5 L404.8,707.5 L385.5,727.5 Z" stroke="#111" stroke-width="1.0" fill="none" stroke-linejoin="round" /><path d="M169.8,848.5 H1342" stroke="#222" stroke-width="1.0" fill="none" stroke-linejoin="round" stroke-dasharray="20.2,6.5,8.5,7.1" stroke-dashoffset="6.5"/><path d="M287.7,713.2 L226.5,713.2 L180.7,758 L180.7,938.5 L222.4,982.4 L226,983.3 L287.7,983.3" stroke="#111" stroke-width="1.2" fill="none" stroke-linejoin="round" /><path d="M287.7,717.6 L229.5,717.6 L185.2,761 L185.2,935.5 L229.5,978.9 L287.7,978.9" stroke="#111" stroke-width="1.2" fill="none" stroke-linejoin="round" /><line x1="184.4" y1="941" x2="223.3" y2="979.4" stroke="#111" stroke-width="0.9" /><path d="M180.8,937 L186,942" stroke="#111" stroke-width="2.2" fill="none" stroke-linejoin="round" /><path d="M219,975 L227,983 M215,983 L226,987" stroke="#111" stroke-width="1.3" fill="none" stroke-linejoin="round" /><rect x="1192.3" y="989.2" width="44.9" height="14.4" rx="2" stroke="#111" stroke-width="1.1" fill="none" /><line x1="1195" y1="992.6" x2="1236" y2="992.6" stroke="#666" stroke-width="2.2" /><line x1="1195" y1="998.6" x2="1236" y2="998.6" stroke="#666" stroke-width="2.2" /><line x1="1220" y1="1000" x2="1236" y2="1000" stroke="#555" stroke-width="1.8" /><rect x="1224.2" y="994.7" width="36.5" height="2.6" rx="0" stroke="#111" stroke-width="1.0" fill="#fff" /><path d="M1257.4,994.7 L1276,994.7 L1276,999.5" stroke="#111" stroke-width="0.9" fill="none" stroke-linejoin="round" /><path d="M1266.5,999.9 L1301.7,999.9 L1324.5,977.8 L1329.2,962 L1329.2,848" stroke="#111" stroke-width="1.2" fill="none" stroke-linejoin="round" /><path d="M1291,848 L1291,889.6 L1285.4,947.2 L1239.2,985 L1239.2,992.7 L1289.3,992.7 L1289.3,962" stroke="#111" stroke-width="1.6" fill="none" stroke-linejoin="round" /><line x1="1297.1" y1="951.7" x2="1257.4" y2="993.4" stroke="#111" stroke-width="0.9" /><line x1="1285.4" y1="947.2" x2="1297.1" y2="951.7" stroke="#111" stroke-width="1.0" /><line x1="1297.1" y1="951.7" x2="1304.7" y2="958.6" stroke="#111" stroke-width="2.0" /><line x1="1304.7" y1="958.6" x2="1290" y2="988" stroke="#111" stroke-width="1.0" /><path d="M1297.1,951.7 L1308.7,886.9 L1297,886.9 L1285.4,947.2" stroke="#111" stroke-width="1.1" fill="none" stroke-linejoin="round" /><line x1="1297.5" y1="886.9" x2="1297.5" y2="848" stroke="#111" stroke-width="1.1" /><line x1="1308.5" y1="886.9" x2="1308.5" y2="848" stroke="#111" stroke-width="1.0" /><line x1="1304.5" y1="952" x2="1304.5" y2="922" stroke="#111" stroke-width="0.8" /><rect x="1192.3" y="692.9" width="44.9" height="14.4" rx="2" stroke="#111" stroke-width="1.1" fill="none" /><line x1="1195" y1="703.9" x2="1236" y2="703.9" stroke="#666" stroke-width="2.2" /><line x1="1195" y1="697.9" x2="1236" y2="697.9" stroke="#666" stroke-width="2.2" /><line x1="1220" y1="696.5" x2="1236" y2="696.5" stroke="#555" stroke-width="1.8" /><rect x="1224.2" y="699.2" width="36.5" height="2.6" rx="0" stroke="#111" stroke-width="1.0" fill="#fff" /><path d="M1257.4,701.8 L1276,701.8 L1276,697" stroke="#111" stroke-width="0.9" fill="none" stroke-linejoin="round" /><path d="M1266.5,696.6 L1301.7,696.6 L1324.5,718.7 L1329.2,734.5 L1329.2,848.5" stroke="#111" stroke-width="1.2" fill="none" stroke-linejoin="round" /><path d="M1291,848.5 L1291,806.9 L1285.4,749.3 L1239.2,711.5 L1239.2,703.8 L1289.3,703.8 L1289.3,734.5" stroke="#111" stroke-width="1.6" fill="none" stroke-linejoin="round" /><line x1="1297.1" y1="744.8" x2="1257.4" y2="703.1" stroke="#111" stroke-width="0.9" /><line x1="1285.4" y1="749.3" x2="1297.1" y2="744.8" stroke="#111" stroke-width="1.0" /><line x1="1297.1" y1="744.8" x2="1304.7" y2="737.9" stroke="#111" stroke-width="2.0" /><line x1="1304.7" y1="737.9" x2="1290" y2="708.5" stroke="#111" stroke-width="1.0" /><path d="M1297.1,744.8 L1308.7,809.6 L1297,809.6 L1285.4,749.3" stroke="#111" stroke-width="1.1" fill="none" stroke-linejoin="round" /><line x1="1297.5" y1="809.6" x2="1297.5" y2="848.5" stroke="#111" stroke-width="1.1" /><line x1="1308.5" y1="809.6" x2="1308.5" y2="848.5" stroke="#111" stroke-width="1.0" /><line x1="1304.5" y1="744.5" x2="1304.5" y2="774.5" stroke="#111" stroke-width="0.8" /></svg></body></html>
